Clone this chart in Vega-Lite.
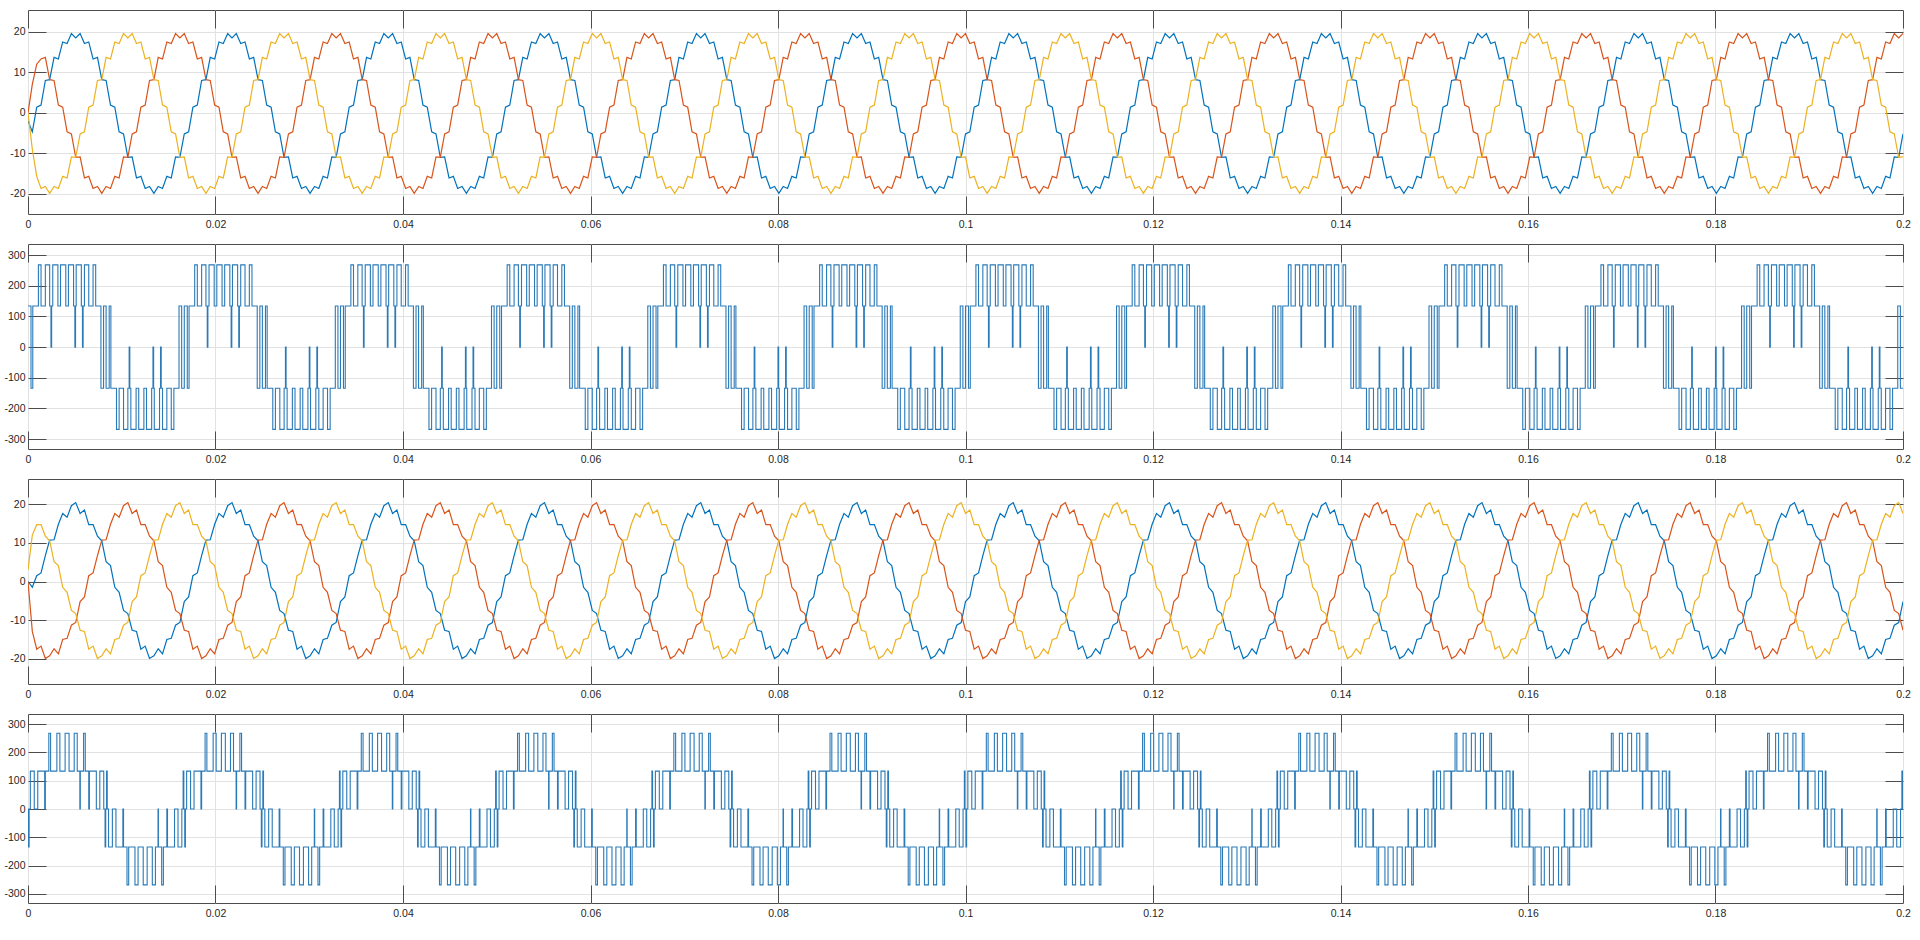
{
"$schema":"https://vega.github.io/schema/vega-lite/v6.json",
"background":"white",
"padding":{"left":3,"top":9,"right":10,"bottom":5},
"spacing":30,
"bounds":"flush",
"config":{
"view":{"stroke":"#4d4d4d","strokeWidth":1},
"axis":{"domain":false,"title":null,"labelFont":"Liberation Sans","labelFontSize":10.5,"labelColor":"#262626","gridColor":"#e2e2e2","gridWidth":1,"tickColor":"#4d4d4d","tickWidth":1,"tickSize":-18,"labelFlush":false}
},
"datasets":{
"cur":[
{"t":0,"a":-2,"b":0,"c":0,"d":0,"e":0,"f":3},
{"t":0.00046,"a":-4.7,"b":7,"c":-9,"d":-1.5,"e":-12.9,"f":12},
{"t":0.00093,"a":1.4,"b":12,"c":-15.7,"d":1.5,"e":-17.5,"f":14.7},
{"t":0.00139,"a":1.9,"b":13.3,"c":-18.7,"d":2.2,"e":-16.7,"f":14.7},
{"t":0.00185,"a":8,"b":13.7,"c":-18.2,"d":6.7,"e":-19.9,"f":11.7},
{"t":0.00231,"a":8.2,"b":8.2,"c":-19.9,"d":10.7,"e":-19.2,"f":10.5},
{"t":0.00278,"a":13.7,"b":8,"c":-18.2,"d":10.8,"e":-17.4,"f":5.1},
{"t":0.00324,"a":13.3,"b":1.9,"c":-18.7,"d":14.8,"e":-18.7,"f":4.1},
{"t":0.0037,"a":17.5,"b":1.4,"c":-15.7,"d":17.6,"e":-15,"f":-1.5},
{"t":0.00417,"a":17.1,"b":-4.7,"c":-16.1,"d":16.6,"e":-14.7,"f":-2.8},
{"t":0.00463,"a":19.6,"b":-5.2,"c":-10.9,"d":19.6,"e":-11.3,"f":-7.5},
{"t":0.00509,"a":18.5,"b":-11,"c":-11,"d":20.4,"e":-10.6,"f":-8.3},
{"t":0.00556,"a":19.6,"b":-10.9,"c":-5.2,"d":17.6,"e":-5.2,"f":-12.6},
{"t":0.00602,"a":17.1,"b":-16.1,"c":-4.7,"d":18.5,"e":-4,"f":-12.9},
{"t":0.00648,"a":17.5,"b":-15.7,"c":1.4,"d":14.7,"e":1.5,"f":-17.5},
{"t":0.00694,"a":13.3,"b":-18.7,"c":1.9,"d":14.7,"e":2.2,"f":-16.7},
{"t":0.00741,"a":13.7,"b":-18.2,"c":8,"d":11.7,"e":6.7,"f":-19.9},
{"t":0.00787,"a":8.2,"b":-19.9,"c":8.2,"d":10.5,"e":10.7,"f":-19.2},
{"t":0.00833,"a":8,"b":-18.2,"c":13.7,"d":5.1,"e":10.8,"f":-17.4},
{"t":0.0088,"a":1.9,"b":-18.7,"c":13.3,"d":4.1,"e":14.8,"f":-18.7},
{"t":0.00926,"a":1.4,"b":-15.7,"c":17.5,"d":-1.5,"e":17.6,"f":-15},
{"t":0.00972,"a":-4.7,"b":-16.1,"c":17.1,"d":-2.8,"e":16.6,"f":-14.7},
{"t":0.01019,"a":-5.2,"b":-10.9,"c":19.6,"d":-7.5,"e":19.6,"f":-11.3},
{"t":0.01065,"a":-11,"b":-11,"c":18.5,"d":-8.3,"e":20.4,"f":-10.6},
{"t":0.01111,"a":-10.9,"b":-5.2,"c":19.6,"d":-12.6,"e":17.6,"f":-5.2},
{"t":0.01157,"a":-16.1,"b":-4.7,"c":17.1,"d":-12.9,"e":18.5,"f":-4},
{"t":0.01204,"a":-15.7,"b":1.4,"c":17.5,"d":-17.5,"e":14.7,"f":1.5},
{"t":0.0125,"a":-18.7,"b":1.9,"c":13.3,"d":-16.7,"e":14.7,"f":2.2},
{"t":0.01296,"a":-18.2,"b":8,"c":13.7,"d":-19.9,"e":11.7,"f":6.7},
{"t":0.01343,"a":-19.9,"b":8.2,"c":8.2,"d":-19.2,"e":10.5,"f":10.7},
{"t":0.01389,"a":-18.2,"b":13.7,"c":8,"d":-17.4,"e":5.1,"f":10.8},
{"t":0.01435,"a":-18.7,"b":13.3,"c":1.9,"d":-18.7,"e":4.1,"f":14.8},
{"t":0.01481,"a":-15.7,"b":17.5,"c":1.4,"d":-15,"e":-1.5,"f":17.6},
{"t":0.01528,"a":-16.1,"b":17.1,"c":-4.7,"d":-14.7,"e":-2.8,"f":16.6},
{"t":0.01574,"a":-10.9,"b":19.6,"c":-5.2,"d":-11.3,"e":-7.5,"f":19.6},
{"t":0.0162,"a":-11,"b":18.5,"c":-11,"d":-10.6,"e":-8.3,"f":20.4},
{"t":0.01667,"a":-5.2,"b":19.6,"c":-10.9,"d":-5.2,"e":-12.6,"f":17.6},
{"t":0.01713,"a":-4.7,"b":17.1,"c":-16.1,"d":-4,"e":-12.9,"f":18.5},
{"t":0.01759,"a":1.4,"b":17.5,"c":-15.7,"d":1.5,"e":-17.5,"f":14.7},
{"t":0.01806,"a":1.9,"b":13.3,"c":-18.7,"d":2.2,"e":-16.7,"f":14.7},
{"t":0.01852,"a":8,"b":13.7,"c":-18.2,"d":6.7,"e":-19.9,"f":11.7},
{"t":0.01898,"a":8.2,"b":8.2,"c":-19.9,"d":10.7,"e":-19.2,"f":10.5},
{"t":0.01944,"a":13.7,"b":8,"c":-18.2,"d":10.8,"e":-17.4,"f":5.1},
{"t":0.01991,"a":13.3,"b":1.9,"c":-18.7,"d":14.8,"e":-18.7,"f":4.1},
{"t":0.02037,"a":17.5,"b":1.4,"c":-15.7,"d":17.6,"e":-15,"f":-1.5},
{"t":0.02083,"a":17.1,"b":-4.7,"c":-16.1,"d":16.6,"e":-14.7,"f":-2.8},
{"t":0.0213,"a":19.6,"b":-5.2,"c":-10.9,"d":19.6,"e":-11.3,"f":-7.5},
{"t":0.02176,"a":18.5,"b":-11,"c":-11,"d":20.4,"e":-10.6,"f":-8.3},
{"t":0.02222,"a":19.6,"b":-10.9,"c":-5.2,"d":17.6,"e":-5.2,"f":-12.6},
{"t":0.02269,"a":17.1,"b":-16.1,"c":-4.7,"d":18.5,"e":-4,"f":-12.9},
{"t":0.02315,"a":17.5,"b":-15.7,"c":1.4,"d":14.7,"e":1.5,"f":-17.5},
{"t":0.02361,"a":13.3,"b":-18.7,"c":1.9,"d":14.7,"e":2.2,"f":-16.7},
{"t":0.02407,"a":13.7,"b":-18.2,"c":8,"d":11.7,"e":6.7,"f":-19.9},
{"t":0.02454,"a":8.2,"b":-19.9,"c":8.2,"d":10.5,"e":10.7,"f":-19.2},
{"t":0.025,"a":8,"b":-18.2,"c":13.7,"d":5.1,"e":10.8,"f":-17.4},
{"t":0.02546,"a":1.9,"b":-18.7,"c":13.3,"d":4.1,"e":14.8,"f":-18.7},
{"t":0.02593,"a":1.4,"b":-15.7,"c":17.5,"d":-1.5,"e":17.6,"f":-15},
{"t":0.02639,"a":-4.7,"b":-16.1,"c":17.1,"d":-2.8,"e":16.6,"f":-14.7},
{"t":0.02685,"a":-5.2,"b":-10.9,"c":19.6,"d":-7.5,"e":19.6,"f":-11.3},
{"t":0.02731,"a":-11,"b":-11,"c":18.5,"d":-8.3,"e":20.4,"f":-10.6},
{"t":0.02778,"a":-10.9,"b":-5.2,"c":19.6,"d":-12.6,"e":17.6,"f":-5.2},
{"t":0.02824,"a":-16.1,"b":-4.7,"c":17.1,"d":-12.9,"e":18.5,"f":-4},
{"t":0.0287,"a":-15.7,"b":1.4,"c":17.5,"d":-17.5,"e":14.7,"f":1.5},
{"t":0.02917,"a":-18.7,"b":1.9,"c":13.3,"d":-16.7,"e":14.7,"f":2.2},
{"t":0.02963,"a":-18.2,"b":8,"c":13.7,"d":-19.9,"e":11.7,"f":6.7},
{"t":0.03009,"a":-19.9,"b":8.2,"c":8.2,"d":-19.2,"e":10.5,"f":10.7},
{"t":0.03056,"a":-18.2,"b":13.7,"c":8,"d":-17.4,"e":5.1,"f":10.8},
{"t":0.03102,"a":-18.7,"b":13.3,"c":1.9,"d":-18.7,"e":4.1,"f":14.8},
{"t":0.03148,"a":-15.7,"b":17.5,"c":1.4,"d":-15,"e":-1.5,"f":17.6},
{"t":0.03194,"a":-16.1,"b":17.1,"c":-4.7,"d":-14.7,"e":-2.8,"f":16.6},
{"t":0.03241,"a":-10.9,"b":19.6,"c":-5.2,"d":-11.3,"e":-7.5,"f":19.6},
{"t":0.03287,"a":-11,"b":18.5,"c":-11,"d":-10.6,"e":-8.3,"f":20.4},
{"t":0.03333,"a":-5.2,"b":19.6,"c":-10.9,"d":-5.2,"e":-12.6,"f":17.6},
{"t":0.0338,"a":-4.7,"b":17.1,"c":-16.1,"d":-4,"e":-12.9,"f":18.5},
{"t":0.03426,"a":1.4,"b":17.5,"c":-15.7,"d":1.5,"e":-17.5,"f":14.7},
{"t":0.03472,"a":1.9,"b":13.3,"c":-18.7,"d":2.2,"e":-16.7,"f":14.7},
{"t":0.03519,"a":8,"b":13.7,"c":-18.2,"d":6.7,"e":-19.9,"f":11.7},
{"t":0.03565,"a":8.2,"b":8.2,"c":-19.9,"d":10.7,"e":-19.2,"f":10.5},
{"t":0.03611,"a":13.7,"b":8,"c":-18.2,"d":10.8,"e":-17.4,"f":5.1},
{"t":0.03657,"a":13.3,"b":1.9,"c":-18.7,"d":14.8,"e":-18.7,"f":4.1},
{"t":0.03704,"a":17.5,"b":1.4,"c":-15.7,"d":17.6,"e":-15,"f":-1.5},
{"t":0.0375,"a":17.1,"b":-4.7,"c":-16.1,"d":16.6,"e":-14.7,"f":-2.8},
{"t":0.03796,"a":19.6,"b":-5.2,"c":-10.9,"d":19.6,"e":-11.3,"f":-7.5},
{"t":0.03843,"a":18.5,"b":-11,"c":-11,"d":20.4,"e":-10.6,"f":-8.3},
{"t":0.03889,"a":19.6,"b":-10.9,"c":-5.2,"d":17.6,"e":-5.2,"f":-12.6},
{"t":0.03935,"a":17.1,"b":-16.1,"c":-4.7,"d":18.5,"e":-4,"f":-12.9},
{"t":0.03981,"a":17.5,"b":-15.7,"c":1.4,"d":14.7,"e":1.5,"f":-17.5},
{"t":0.04028,"a":13.3,"b":-18.7,"c":1.9,"d":14.7,"e":2.2,"f":-16.7},
{"t":0.04074,"a":13.7,"b":-18.2,"c":8,"d":11.7,"e":6.7,"f":-19.9},
{"t":0.0412,"a":8.2,"b":-19.9,"c":8.2,"d":10.5,"e":10.7,"f":-19.2},
{"t":0.04167,"a":8,"b":-18.2,"c":13.7,"d":5.1,"e":10.8,"f":-17.4},
{"t":0.04213,"a":1.9,"b":-18.7,"c":13.3,"d":4.1,"e":14.8,"f":-18.7},
{"t":0.04259,"a":1.4,"b":-15.7,"c":17.5,"d":-1.5,"e":17.6,"f":-15},
{"t":0.04306,"a":-4.7,"b":-16.1,"c":17.1,"d":-2.8,"e":16.6,"f":-14.7},
{"t":0.04352,"a":-5.2,"b":-10.9,"c":19.6,"d":-7.5,"e":19.6,"f":-11.3},
{"t":0.04398,"a":-11,"b":-11,"c":18.5,"d":-8.3,"e":20.4,"f":-10.6},
{"t":0.04444,"a":-10.9,"b":-5.2,"c":19.6,"d":-12.6,"e":17.6,"f":-5.2},
{"t":0.04491,"a":-16.1,"b":-4.7,"c":17.1,"d":-12.9,"e":18.5,"f":-4},
{"t":0.04537,"a":-15.7,"b":1.4,"c":17.5,"d":-17.5,"e":14.7,"f":1.5},
{"t":0.04583,"a":-18.7,"b":1.9,"c":13.3,"d":-16.7,"e":14.7,"f":2.2},
{"t":0.0463,"a":-18.2,"b":8,"c":13.7,"d":-19.9,"e":11.7,"f":6.7},
{"t":0.04676,"a":-19.9,"b":8.2,"c":8.2,"d":-19.2,"e":10.5,"f":10.7},
{"t":0.04722,"a":-18.2,"b":13.7,"c":8,"d":-17.4,"e":5.1,"f":10.8},
{"t":0.04769,"a":-18.7,"b":13.3,"c":1.9,"d":-18.7,"e":4.1,"f":14.8},
{"t":0.04815,"a":-15.7,"b":17.5,"c":1.4,"d":-15,"e":-1.5,"f":17.6},
{"t":0.04861,"a":-16.1,"b":17.1,"c":-4.7,"d":-14.7,"e":-2.8,"f":16.6},
{"t":0.04907,"a":-10.9,"b":19.6,"c":-5.2,"d":-11.3,"e":-7.5,"f":19.6},
{"t":0.04954,"a":-11,"b":18.5,"c":-11,"d":-10.6,"e":-8.3,"f":20.4},
{"t":0.05,"a":-5.2,"b":19.6,"c":-10.9,"d":-5.2,"e":-12.6,"f":17.6},
{"t":0.05046,"a":-4.7,"b":17.1,"c":-16.1,"d":-4,"e":-12.9,"f":18.5},
{"t":0.05093,"a":1.4,"b":17.5,"c":-15.7,"d":1.5,"e":-17.5,"f":14.7},
{"t":0.05139,"a":1.9,"b":13.3,"c":-18.7,"d":2.2,"e":-16.7,"f":14.7},
{"t":0.05185,"a":8,"b":13.7,"c":-18.2,"d":6.7,"e":-19.9,"f":11.7},
{"t":0.05231,"a":8.2,"b":8.2,"c":-19.9,"d":10.7,"e":-19.2,"f":10.5},
{"t":0.05278,"a":13.7,"b":8,"c":-18.2,"d":10.8,"e":-17.4,"f":5.1},
{"t":0.05324,"a":13.3,"b":1.9,"c":-18.7,"d":14.8,"e":-18.7,"f":4.1},
{"t":0.0537,"a":17.5,"b":1.4,"c":-15.7,"d":17.6,"e":-15,"f":-1.5},
{"t":0.05417,"a":17.1,"b":-4.7,"c":-16.1,"d":16.6,"e":-14.7,"f":-2.8},
{"t":0.05463,"a":19.6,"b":-5.2,"c":-10.9,"d":19.6,"e":-11.3,"f":-7.5},
{"t":0.05509,"a":18.5,"b":-11,"c":-11,"d":20.4,"e":-10.6,"f":-8.3},
{"t":0.05556,"a":19.6,"b":-10.9,"c":-5.2,"d":17.6,"e":-5.2,"f":-12.6},
{"t":0.05602,"a":17.1,"b":-16.1,"c":-4.7,"d":18.5,"e":-4,"f":-12.9},
{"t":0.05648,"a":17.5,"b":-15.7,"c":1.4,"d":14.7,"e":1.5,"f":-17.5},
{"t":0.05694,"a":13.3,"b":-18.7,"c":1.9,"d":14.7,"e":2.2,"f":-16.7},
{"t":0.05741,"a":13.7,"b":-18.2,"c":8,"d":11.7,"e":6.7,"f":-19.9},
{"t":0.05787,"a":8.2,"b":-19.9,"c":8.2,"d":10.5,"e":10.7,"f":-19.2},
{"t":0.05833,"a":8,"b":-18.2,"c":13.7,"d":5.1,"e":10.8,"f":-17.4},
{"t":0.0588,"a":1.9,"b":-18.7,"c":13.3,"d":4.1,"e":14.8,"f":-18.7},
{"t":0.05926,"a":1.4,"b":-15.7,"c":17.5,"d":-1.5,"e":17.6,"f":-15},
{"t":0.05972,"a":-4.7,"b":-16.1,"c":17.1,"d":-2.8,"e":16.6,"f":-14.7},
{"t":0.06019,"a":-5.2,"b":-10.9,"c":19.6,"d":-7.5,"e":19.6,"f":-11.3},
{"t":0.06065,"a":-11,"b":-11,"c":18.5,"d":-8.3,"e":20.4,"f":-10.6},
{"t":0.06111,"a":-10.9,"b":-5.2,"c":19.6,"d":-12.6,"e":17.6,"f":-5.2},
{"t":0.06157,"a":-16.1,"b":-4.7,"c":17.1,"d":-12.9,"e":18.5,"f":-4},
{"t":0.06204,"a":-15.7,"b":1.4,"c":17.5,"d":-17.5,"e":14.7,"f":1.5},
{"t":0.0625,"a":-18.7,"b":1.9,"c":13.3,"d":-16.7,"e":14.7,"f":2.2},
{"t":0.06296,"a":-18.2,"b":8,"c":13.7,"d":-19.9,"e":11.7,"f":6.7},
{"t":0.06343,"a":-19.9,"b":8.2,"c":8.2,"d":-19.2,"e":10.5,"f":10.7},
{"t":0.06389,"a":-18.2,"b":13.7,"c":8,"d":-17.4,"e":5.1,"f":10.8},
{"t":0.06435,"a":-18.7,"b":13.3,"c":1.9,"d":-18.7,"e":4.1,"f":14.8},
{"t":0.06481,"a":-15.7,"b":17.5,"c":1.4,"d":-15,"e":-1.5,"f":17.6},
{"t":0.06528,"a":-16.1,"b":17.1,"c":-4.7,"d":-14.7,"e":-2.8,"f":16.6},
{"t":0.06574,"a":-10.9,"b":19.6,"c":-5.2,"d":-11.3,"e":-7.5,"f":19.6},
{"t":0.0662,"a":-11,"b":18.5,"c":-11,"d":-10.6,"e":-8.3,"f":20.4},
{"t":0.06667,"a":-5.2,"b":19.6,"c":-10.9,"d":-5.2,"e":-12.6,"f":17.6},
{"t":0.06713,"a":-4.7,"b":17.1,"c":-16.1,"d":-4,"e":-12.9,"f":18.5},
{"t":0.06759,"a":1.4,"b":17.5,"c":-15.7,"d":1.5,"e":-17.5,"f":14.7},
{"t":0.06806,"a":1.9,"b":13.3,"c":-18.7,"d":2.2,"e":-16.7,"f":14.7},
{"t":0.06852,"a":8,"b":13.7,"c":-18.2,"d":6.7,"e":-19.9,"f":11.7},
{"t":0.06898,"a":8.2,"b":8.2,"c":-19.9,"d":10.7,"e":-19.2,"f":10.5},
{"t":0.06944,"a":13.7,"b":8,"c":-18.2,"d":10.8,"e":-17.4,"f":5.1},
{"t":0.06991,"a":13.3,"b":1.9,"c":-18.7,"d":14.8,"e":-18.7,"f":4.1},
{"t":0.07037,"a":17.5,"b":1.4,"c":-15.7,"d":17.6,"e":-15,"f":-1.5},
{"t":0.07083,"a":17.1,"b":-4.7,"c":-16.1,"d":16.6,"e":-14.7,"f":-2.8},
{"t":0.0713,"a":19.6,"b":-5.2,"c":-10.9,"d":19.6,"e":-11.3,"f":-7.5},
{"t":0.07176,"a":18.5,"b":-11,"c":-11,"d":20.4,"e":-10.6,"f":-8.3},
{"t":0.07222,"a":19.6,"b":-10.9,"c":-5.2,"d":17.6,"e":-5.2,"f":-12.6},
{"t":0.07269,"a":17.1,"b":-16.1,"c":-4.7,"d":18.5,"e":-4,"f":-12.9},
{"t":0.07315,"a":17.5,"b":-15.7,"c":1.4,"d":14.7,"e":1.5,"f":-17.5},
{"t":0.07361,"a":13.3,"b":-18.7,"c":1.9,"d":14.7,"e":2.2,"f":-16.7},
{"t":0.07407,"a":13.7,"b":-18.2,"c":8,"d":11.7,"e":6.7,"f":-19.9},
{"t":0.07454,"a":8.2,"b":-19.9,"c":8.2,"d":10.5,"e":10.7,"f":-19.2},
{"t":0.075,"a":8,"b":-18.2,"c":13.7,"d":5.1,"e":10.8,"f":-17.4},
{"t":0.07546,"a":1.9,"b":-18.7,"c":13.3,"d":4.1,"e":14.8,"f":-18.7},
{"t":0.07593,"a":1.4,"b":-15.7,"c":17.5,"d":-1.5,"e":17.6,"f":-15},
{"t":0.07639,"a":-4.7,"b":-16.1,"c":17.1,"d":-2.8,"e":16.6,"f":-14.7},
{"t":0.07685,"a":-5.2,"b":-10.9,"c":19.6,"d":-7.5,"e":19.6,"f":-11.3},
{"t":0.07731,"a":-11,"b":-11,"c":18.5,"d":-8.3,"e":20.4,"f":-10.6},
{"t":0.07778,"a":-10.9,"b":-5.2,"c":19.6,"d":-12.6,"e":17.6,"f":-5.2},
{"t":0.07824,"a":-16.1,"b":-4.7,"c":17.1,"d":-12.9,"e":18.5,"f":-4},
{"t":0.0787,"a":-15.7,"b":1.4,"c":17.5,"d":-17.5,"e":14.7,"f":1.5},
{"t":0.07917,"a":-18.7,"b":1.9,"c":13.3,"d":-16.7,"e":14.7,"f":2.2},
{"t":0.07963,"a":-18.2,"b":8,"c":13.7,"d":-19.9,"e":11.7,"f":6.7},
{"t":0.08009,"a":-19.9,"b":8.2,"c":8.2,"d":-19.2,"e":10.5,"f":10.7},
{"t":0.08056,"a":-18.2,"b":13.7,"c":8,"d":-17.4,"e":5.1,"f":10.8},
{"t":0.08102,"a":-18.7,"b":13.3,"c":1.9,"d":-18.7,"e":4.1,"f":14.8},
{"t":0.08148,"a":-15.7,"b":17.5,"c":1.4,"d":-15,"e":-1.5,"f":17.6},
{"t":0.08194,"a":-16.1,"b":17.1,"c":-4.7,"d":-14.7,"e":-2.8,"f":16.6},
{"t":0.08241,"a":-10.9,"b":19.6,"c":-5.2,"d":-11.3,"e":-7.5,"f":19.6},
{"t":0.08287,"a":-11,"b":18.5,"c":-11,"d":-10.6,"e":-8.3,"f":20.4},
{"t":0.08333,"a":-5.2,"b":19.6,"c":-10.9,"d":-5.2,"e":-12.6,"f":17.6},
{"t":0.0838,"a":-4.7,"b":17.1,"c":-16.1,"d":-4,"e":-12.9,"f":18.5},
{"t":0.08426,"a":1.4,"b":17.5,"c":-15.7,"d":1.5,"e":-17.5,"f":14.7},
{"t":0.08472,"a":1.9,"b":13.3,"c":-18.7,"d":2.2,"e":-16.7,"f":14.7},
{"t":0.08519,"a":8,"b":13.7,"c":-18.2,"d":6.7,"e":-19.9,"f":11.7},
{"t":0.08565,"a":8.2,"b":8.2,"c":-19.9,"d":10.7,"e":-19.2,"f":10.5},
{"t":0.08611,"a":13.7,"b":8,"c":-18.2,"d":10.8,"e":-17.4,"f":5.1},
{"t":0.08657,"a":13.3,"b":1.9,"c":-18.7,"d":14.8,"e":-18.7,"f":4.1},
{"t":0.08704,"a":17.5,"b":1.4,"c":-15.7,"d":17.6,"e":-15,"f":-1.5},
{"t":0.0875,"a":17.1,"b":-4.7,"c":-16.1,"d":16.6,"e":-14.7,"f":-2.8},
{"t":0.08796,"a":19.6,"b":-5.2,"c":-10.9,"d":19.6,"e":-11.3,"f":-7.5},
{"t":0.08843,"a":18.5,"b":-11,"c":-11,"d":20.4,"e":-10.6,"f":-8.3},
{"t":0.08889,"a":19.6,"b":-10.9,"c":-5.2,"d":17.6,"e":-5.2,"f":-12.6},
{"t":0.08935,"a":17.1,"b":-16.1,"c":-4.7,"d":18.5,"e":-4,"f":-12.9},
{"t":0.08981,"a":17.5,"b":-15.7,"c":1.4,"d":14.7,"e":1.5,"f":-17.5},
{"t":0.09028,"a":13.3,"b":-18.7,"c":1.9,"d":14.7,"e":2.2,"f":-16.7},
{"t":0.09074,"a":13.7,"b":-18.2,"c":8,"d":11.7,"e":6.7,"f":-19.9},
{"t":0.0912,"a":8.2,"b":-19.9,"c":8.2,"d":10.5,"e":10.7,"f":-19.2},
{"t":0.09167,"a":8,"b":-18.2,"c":13.7,"d":5.1,"e":10.8,"f":-17.4},
{"t":0.09213,"a":1.9,"b":-18.7,"c":13.3,"d":4.1,"e":14.8,"f":-18.7},
{"t":0.09259,"a":1.4,"b":-15.7,"c":17.5,"d":-1.5,"e":17.6,"f":-15},
{"t":0.09306,"a":-4.7,"b":-16.1,"c":17.1,"d":-2.8,"e":16.6,"f":-14.7},
{"t":0.09352,"a":-5.2,"b":-10.9,"c":19.6,"d":-7.5,"e":19.6,"f":-11.3},
{"t":0.09398,"a":-11,"b":-11,"c":18.5,"d":-8.3,"e":20.4,"f":-10.6},
{"t":0.09444,"a":-10.9,"b":-5.2,"c":19.6,"d":-12.6,"e":17.6,"f":-5.2},
{"t":0.09491,"a":-16.1,"b":-4.7,"c":17.1,"d":-12.9,"e":18.5,"f":-4},
{"t":0.09537,"a":-15.7,"b":1.4,"c":17.5,"d":-17.5,"e":14.7,"f":1.5},
{"t":0.09583,"a":-18.7,"b":1.9,"c":13.3,"d":-16.7,"e":14.7,"f":2.2},
{"t":0.0963,"a":-18.2,"b":8,"c":13.7,"d":-19.9,"e":11.7,"f":6.7},
{"t":0.09676,"a":-19.9,"b":8.2,"c":8.2,"d":-19.2,"e":10.5,"f":10.7},
{"t":0.09722,"a":-18.2,"b":13.7,"c":8,"d":-17.4,"e":5.1,"f":10.8},
{"t":0.09769,"a":-18.7,"b":13.3,"c":1.9,"d":-18.7,"e":4.1,"f":14.8},
{"t":0.09815,"a":-15.7,"b":17.5,"c":1.4,"d":-15,"e":-1.5,"f":17.6},
{"t":0.09861,"a":-16.1,"b":17.1,"c":-4.7,"d":-14.7,"e":-2.8,"f":16.6},
{"t":0.09907,"a":-10.9,"b":19.6,"c":-5.2,"d":-11.3,"e":-7.5,"f":19.6},
{"t":0.09954,"a":-11,"b":18.5,"c":-11,"d":-10.6,"e":-8.3,"f":20.4},
{"t":0.1,"a":-5.2,"b":19.6,"c":-10.9,"d":-5.2,"e":-12.6,"f":17.6},
{"t":0.10046,"a":-4.7,"b":17.1,"c":-16.1,"d":-4,"e":-12.9,"f":18.5},
{"t":0.10093,"a":1.4,"b":17.5,"c":-15.7,"d":1.5,"e":-17.5,"f":14.7},
{"t":0.10139,"a":1.9,"b":13.3,"c":-18.7,"d":2.2,"e":-16.7,"f":14.7},
{"t":0.10185,"a":8,"b":13.7,"c":-18.2,"d":6.7,"e":-19.9,"f":11.7},
{"t":0.10231,"a":8.2,"b":8.2,"c":-19.9,"d":10.7,"e":-19.2,"f":10.5},
{"t":0.10278,"a":13.7,"b":8,"c":-18.2,"d":10.8,"e":-17.4,"f":5.1},
{"t":0.10324,"a":13.3,"b":1.9,"c":-18.7,"d":14.8,"e":-18.7,"f":4.1},
{"t":0.1037,"a":17.5,"b":1.4,"c":-15.7,"d":17.6,"e":-15,"f":-1.5},
{"t":0.10417,"a":17.1,"b":-4.7,"c":-16.1,"d":16.6,"e":-14.7,"f":-2.8},
{"t":0.10463,"a":19.6,"b":-5.2,"c":-10.9,"d":19.6,"e":-11.3,"f":-7.5},
{"t":0.10509,"a":18.5,"b":-11,"c":-11,"d":20.4,"e":-10.6,"f":-8.3},
{"t":0.10556,"a":19.6,"b":-10.9,"c":-5.2,"d":17.6,"e":-5.2,"f":-12.6},
{"t":0.10602,"a":17.1,"b":-16.1,"c":-4.7,"d":18.5,"e":-4,"f":-12.9},
{"t":0.10648,"a":17.5,"b":-15.7,"c":1.4,"d":14.7,"e":1.5,"f":-17.5},
{"t":0.10694,"a":13.3,"b":-18.7,"c":1.9,"d":14.7,"e":2.2,"f":-16.7},
{"t":0.10741,"a":13.7,"b":-18.2,"c":8,"d":11.7,"e":6.7,"f":-19.9},
{"t":0.10787,"a":8.2,"b":-19.9,"c":8.2,"d":10.5,"e":10.7,"f":-19.2},
{"t":0.10833,"a":8,"b":-18.2,"c":13.7,"d":5.1,"e":10.8,"f":-17.4},
{"t":0.1088,"a":1.9,"b":-18.7,"c":13.3,"d":4.1,"e":14.8,"f":-18.7},
{"t":0.10926,"a":1.4,"b":-15.7,"c":17.5,"d":-1.5,"e":17.6,"f":-15},
{"t":0.10972,"a":-4.7,"b":-16.1,"c":17.1,"d":-2.8,"e":16.6,"f":-14.7},
{"t":0.11019,"a":-5.2,"b":-10.9,"c":19.6,"d":-7.5,"e":19.6,"f":-11.3},
{"t":0.11065,"a":-11,"b":-11,"c":18.5,"d":-8.3,"e":20.4,"f":-10.6},
{"t":0.11111,"a":-10.9,"b":-5.2,"c":19.6,"d":-12.6,"e":17.6,"f":-5.2},
{"t":0.11157,"a":-16.1,"b":-4.7,"c":17.1,"d":-12.9,"e":18.5,"f":-4},
{"t":0.11204,"a":-15.7,"b":1.4,"c":17.5,"d":-17.5,"e":14.7,"f":1.5},
{"t":0.1125,"a":-18.7,"b":1.9,"c":13.3,"d":-16.7,"e":14.7,"f":2.2},
{"t":0.11296,"a":-18.2,"b":8,"c":13.7,"d":-19.9,"e":11.7,"f":6.7},
{"t":0.11343,"a":-19.9,"b":8.2,"c":8.2,"d":-19.2,"e":10.5,"f":10.7},
{"t":0.11389,"a":-18.2,"b":13.7,"c":8,"d":-17.4,"e":5.1,"f":10.8},
{"t":0.11435,"a":-18.7,"b":13.3,"c":1.9,"d":-18.7,"e":4.1,"f":14.8},
{"t":0.11481,"a":-15.7,"b":17.5,"c":1.4,"d":-15,"e":-1.5,"f":17.6},
{"t":0.11528,"a":-16.1,"b":17.1,"c":-4.7,"d":-14.7,"e":-2.8,"f":16.6},
{"t":0.11574,"a":-10.9,"b":19.6,"c":-5.2,"d":-11.3,"e":-7.5,"f":19.6},
{"t":0.1162,"a":-11,"b":18.5,"c":-11,"d":-10.6,"e":-8.3,"f":20.4},
{"t":0.11667,"a":-5.2,"b":19.6,"c":-10.9,"d":-5.2,"e":-12.6,"f":17.6},
{"t":0.11713,"a":-4.7,"b":17.1,"c":-16.1,"d":-4,"e":-12.9,"f":18.5},
{"t":0.11759,"a":1.4,"b":17.5,"c":-15.7,"d":1.5,"e":-17.5,"f":14.7},
{"t":0.11806,"a":1.9,"b":13.3,"c":-18.7,"d":2.2,"e":-16.7,"f":14.7},
{"t":0.11852,"a":8,"b":13.7,"c":-18.2,"d":6.7,"e":-19.9,"f":11.7},
{"t":0.11898,"a":8.2,"b":8.2,"c":-19.9,"d":10.7,"e":-19.2,"f":10.5},
{"t":0.11944,"a":13.7,"b":8,"c":-18.2,"d":10.8,"e":-17.4,"f":5.1},
{"t":0.11991,"a":13.3,"b":1.9,"c":-18.7,"d":14.8,"e":-18.7,"f":4.1},
{"t":0.12037,"a":17.5,"b":1.4,"c":-15.7,"d":17.6,"e":-15,"f":-1.5},
{"t":0.12083,"a":17.1,"b":-4.7,"c":-16.1,"d":16.6,"e":-14.7,"f":-2.8},
{"t":0.1213,"a":19.6,"b":-5.2,"c":-10.9,"d":19.6,"e":-11.3,"f":-7.5},
{"t":0.12176,"a":18.5,"b":-11,"c":-11,"d":20.4,"e":-10.6,"f":-8.3},
{"t":0.12222,"a":19.6,"b":-10.9,"c":-5.2,"d":17.6,"e":-5.2,"f":-12.6},
{"t":0.12269,"a":17.1,"b":-16.1,"c":-4.7,"d":18.5,"e":-4,"f":-12.9},
{"t":0.12315,"a":17.5,"b":-15.7,"c":1.4,"d":14.7,"e":1.5,"f":-17.5},
{"t":0.12361,"a":13.3,"b":-18.7,"c":1.9,"d":14.7,"e":2.2,"f":-16.7},
{"t":0.12407,"a":13.7,"b":-18.2,"c":8,"d":11.7,"e":6.7,"f":-19.9},
{"t":0.12454,"a":8.2,"b":-19.9,"c":8.2,"d":10.5,"e":10.7,"f":-19.2},
{"t":0.125,"a":8,"b":-18.2,"c":13.7,"d":5.1,"e":10.8,"f":-17.4},
{"t":0.12546,"a":1.9,"b":-18.7,"c":13.3,"d":4.1,"e":14.8,"f":-18.7},
{"t":0.12593,"a":1.4,"b":-15.7,"c":17.5,"d":-1.5,"e":17.6,"f":-15},
{"t":0.12639,"a":-4.7,"b":-16.1,"c":17.1,"d":-2.8,"e":16.6,"f":-14.7},
{"t":0.12685,"a":-5.2,"b":-10.9,"c":19.6,"d":-7.5,"e":19.6,"f":-11.3},
{"t":0.12731,"a":-11,"b":-11,"c":18.5,"d":-8.3,"e":20.4,"f":-10.6},
{"t":0.12778,"a":-10.9,"b":-5.2,"c":19.6,"d":-12.6,"e":17.6,"f":-5.2},
{"t":0.12824,"a":-16.1,"b":-4.7,"c":17.1,"d":-12.9,"e":18.5,"f":-4},
{"t":0.1287,"a":-15.7,"b":1.4,"c":17.5,"d":-17.5,"e":14.7,"f":1.5},
{"t":0.12917,"a":-18.7,"b":1.9,"c":13.3,"d":-16.7,"e":14.7,"f":2.2},
{"t":0.12963,"a":-18.2,"b":8,"c":13.7,"d":-19.9,"e":11.7,"f":6.7},
{"t":0.13009,"a":-19.9,"b":8.2,"c":8.2,"d":-19.2,"e":10.5,"f":10.7},
{"t":0.13056,"a":-18.2,"b":13.7,"c":8,"d":-17.4,"e":5.1,"f":10.8},
{"t":0.13102,"a":-18.7,"b":13.3,"c":1.9,"d":-18.7,"e":4.1,"f":14.8},
{"t":0.13148,"a":-15.7,"b":17.5,"c":1.4,"d":-15,"e":-1.5,"f":17.6},
{"t":0.13194,"a":-16.1,"b":17.1,"c":-4.7,"d":-14.7,"e":-2.8,"f":16.6},
{"t":0.13241,"a":-10.9,"b":19.6,"c":-5.2,"d":-11.3,"e":-7.5,"f":19.6},
{"t":0.13287,"a":-11,"b":18.5,"c":-11,"d":-10.6,"e":-8.3,"f":20.4},
{"t":0.13333,"a":-5.2,"b":19.6,"c":-10.9,"d":-5.2,"e":-12.6,"f":17.6},
{"t":0.1338,"a":-4.7,"b":17.1,"c":-16.1,"d":-4,"e":-12.9,"f":18.5},
{"t":0.13426,"a":1.4,"b":17.5,"c":-15.7,"d":1.5,"e":-17.5,"f":14.7},
{"t":0.13472,"a":1.9,"b":13.3,"c":-18.7,"d":2.2,"e":-16.7,"f":14.7},
{"t":0.13519,"a":8,"b":13.7,"c":-18.2,"d":6.7,"e":-19.9,"f":11.7},
{"t":0.13565,"a":8.2,"b":8.2,"c":-19.9,"d":10.7,"e":-19.2,"f":10.5},
{"t":0.13611,"a":13.7,"b":8,"c":-18.2,"d":10.8,"e":-17.4,"f":5.1},
{"t":0.13657,"a":13.3,"b":1.9,"c":-18.7,"d":14.8,"e":-18.7,"f":4.1},
{"t":0.13704,"a":17.5,"b":1.4,"c":-15.7,"d":17.6,"e":-15,"f":-1.5},
{"t":0.1375,"a":17.1,"b":-4.7,"c":-16.1,"d":16.6,"e":-14.7,"f":-2.8},
{"t":0.13796,"a":19.6,"b":-5.2,"c":-10.9,"d":19.6,"e":-11.3,"f":-7.5},
{"t":0.13843,"a":18.5,"b":-11,"c":-11,"d":20.4,"e":-10.6,"f":-8.3},
{"t":0.13889,"a":19.6,"b":-10.9,"c":-5.2,"d":17.6,"e":-5.2,"f":-12.6},
{"t":0.13935,"a":17.1,"b":-16.1,"c":-4.7,"d":18.5,"e":-4,"f":-12.9},
{"t":0.13981,"a":17.5,"b":-15.7,"c":1.4,"d":14.7,"e":1.5,"f":-17.5},
{"t":0.14028,"a":13.3,"b":-18.7,"c":1.9,"d":14.7,"e":2.2,"f":-16.7},
{"t":0.14074,"a":13.7,"b":-18.2,"c":8,"d":11.7,"e":6.7,"f":-19.9},
{"t":0.1412,"a":8.2,"b":-19.9,"c":8.2,"d":10.5,"e":10.7,"f":-19.2},
{"t":0.14167,"a":8,"b":-18.2,"c":13.7,"d":5.1,"e":10.8,"f":-17.4},
{"t":0.14213,"a":1.9,"b":-18.7,"c":13.3,"d":4.1,"e":14.8,"f":-18.7},
{"t":0.14259,"a":1.4,"b":-15.7,"c":17.5,"d":-1.5,"e":17.6,"f":-15},
{"t":0.14306,"a":-4.7,"b":-16.1,"c":17.1,"d":-2.8,"e":16.6,"f":-14.7},
{"t":0.14352,"a":-5.2,"b":-10.9,"c":19.6,"d":-7.5,"e":19.6,"f":-11.3},
{"t":0.14398,"a":-11,"b":-11,"c":18.5,"d":-8.3,"e":20.4,"f":-10.6},
{"t":0.14444,"a":-10.9,"b":-5.2,"c":19.6,"d":-12.6,"e":17.6,"f":-5.2},
{"t":0.14491,"a":-16.1,"b":-4.7,"c":17.1,"d":-12.9,"e":18.5,"f":-4},
{"t":0.14537,"a":-15.7,"b":1.4,"c":17.5,"d":-17.5,"e":14.7,"f":1.5},
{"t":0.14583,"a":-18.7,"b":1.9,"c":13.3,"d":-16.7,"e":14.7,"f":2.2},
{"t":0.1463,"a":-18.2,"b":8,"c":13.7,"d":-19.9,"e":11.7,"f":6.7},
{"t":0.14676,"a":-19.9,"b":8.2,"c":8.2,"d":-19.2,"e":10.5,"f":10.7},
{"t":0.14722,"a":-18.2,"b":13.7,"c":8,"d":-17.4,"e":5.1,"f":10.8},
{"t":0.14769,"a":-18.7,"b":13.3,"c":1.9,"d":-18.7,"e":4.1,"f":14.8},
{"t":0.14815,"a":-15.7,"b":17.5,"c":1.4,"d":-15,"e":-1.5,"f":17.6},
{"t":0.14861,"a":-16.1,"b":17.1,"c":-4.7,"d":-14.7,"e":-2.8,"f":16.6},
{"t":0.14907,"a":-10.9,"b":19.6,"c":-5.2,"d":-11.3,"e":-7.5,"f":19.6},
{"t":0.14954,"a":-11,"b":18.5,"c":-11,"d":-10.6,"e":-8.3,"f":20.4},
{"t":0.15,"a":-5.2,"b":19.6,"c":-10.9,"d":-5.2,"e":-12.6,"f":17.6},
{"t":0.15046,"a":-4.7,"b":17.1,"c":-16.1,"d":-4,"e":-12.9,"f":18.5},
{"t":0.15093,"a":1.4,"b":17.5,"c":-15.7,"d":1.5,"e":-17.5,"f":14.7},
{"t":0.15139,"a":1.9,"b":13.3,"c":-18.7,"d":2.2,"e":-16.7,"f":14.7},
{"t":0.15185,"a":8,"b":13.7,"c":-18.2,"d":6.7,"e":-19.9,"f":11.7},
{"t":0.15231,"a":8.2,"b":8.2,"c":-19.9,"d":10.7,"e":-19.2,"f":10.5},
{"t":0.15278,"a":13.7,"b":8,"c":-18.2,"d":10.8,"e":-17.4,"f":5.1},
{"t":0.15324,"a":13.3,"b":1.9,"c":-18.7,"d":14.8,"e":-18.7,"f":4.1},
{"t":0.1537,"a":17.5,"b":1.4,"c":-15.7,"d":17.6,"e":-15,"f":-1.5},
{"t":0.15417,"a":17.1,"b":-4.7,"c":-16.1,"d":16.6,"e":-14.7,"f":-2.8},
{"t":0.15463,"a":19.6,"b":-5.2,"c":-10.9,"d":19.6,"e":-11.3,"f":-7.5},
{"t":0.15509,"a":18.5,"b":-11,"c":-11,"d":20.4,"e":-10.6,"f":-8.3},
{"t":0.15556,"a":19.6,"b":-10.9,"c":-5.2,"d":17.6,"e":-5.2,"f":-12.6},
{"t":0.15602,"a":17.1,"b":-16.1,"c":-4.7,"d":18.5,"e":-4,"f":-12.9},
{"t":0.15648,"a":17.5,"b":-15.7,"c":1.4,"d":14.7,"e":1.5,"f":-17.5},
{"t":0.15694,"a":13.3,"b":-18.7,"c":1.9,"d":14.7,"e":2.2,"f":-16.7},
{"t":0.15741,"a":13.7,"b":-18.2,"c":8,"d":11.7,"e":6.7,"f":-19.9},
{"t":0.15787,"a":8.2,"b":-19.9,"c":8.2,"d":10.5,"e":10.7,"f":-19.2},
{"t":0.15833,"a":8,"b":-18.2,"c":13.7,"d":5.1,"e":10.8,"f":-17.4},
{"t":0.1588,"a":1.9,"b":-18.7,"c":13.3,"d":4.1,"e":14.8,"f":-18.7},
{"t":0.15926,"a":1.4,"b":-15.7,"c":17.5,"d":-1.5,"e":17.6,"f":-15},
{"t":0.15972,"a":-4.7,"b":-16.1,"c":17.1,"d":-2.8,"e":16.6,"f":-14.7},
{"t":0.16019,"a":-5.2,"b":-10.9,"c":19.6,"d":-7.5,"e":19.6,"f":-11.3},
{"t":0.16065,"a":-11,"b":-11,"c":18.5,"d":-8.3,"e":20.4,"f":-10.6},
{"t":0.16111,"a":-10.9,"b":-5.2,"c":19.6,"d":-12.6,"e":17.6,"f":-5.2},
{"t":0.16157,"a":-16.1,"b":-4.7,"c":17.1,"d":-12.9,"e":18.5,"f":-4},
{"t":0.16204,"a":-15.7,"b":1.4,"c":17.5,"d":-17.5,"e":14.7,"f":1.5},
{"t":0.1625,"a":-18.7,"b":1.9,"c":13.3,"d":-16.7,"e":14.7,"f":2.2},
{"t":0.16296,"a":-18.2,"b":8,"c":13.7,"d":-19.9,"e":11.7,"f":6.7},
{"t":0.16343,"a":-19.9,"b":8.2,"c":8.2,"d":-19.2,"e":10.5,"f":10.7},
{"t":0.16389,"a":-18.2,"b":13.7,"c":8,"d":-17.4,"e":5.1,"f":10.8},
{"t":0.16435,"a":-18.7,"b":13.3,"c":1.9,"d":-18.7,"e":4.1,"f":14.8},
{"t":0.16481,"a":-15.7,"b":17.5,"c":1.4,"d":-15,"e":-1.5,"f":17.6},
{"t":0.16528,"a":-16.1,"b":17.1,"c":-4.7,"d":-14.7,"e":-2.8,"f":16.6},
{"t":0.16574,"a":-10.9,"b":19.6,"c":-5.2,"d":-11.3,"e":-7.5,"f":19.6},
{"t":0.1662,"a":-11,"b":18.5,"c":-11,"d":-10.6,"e":-8.3,"f":20.4},
{"t":0.16667,"a":-5.2,"b":19.6,"c":-10.9,"d":-5.2,"e":-12.6,"f":17.6},
{"t":0.16713,"a":-4.7,"b":17.1,"c":-16.1,"d":-4,"e":-12.9,"f":18.5},
{"t":0.16759,"a":1.4,"b":17.5,"c":-15.7,"d":1.5,"e":-17.5,"f":14.7},
{"t":0.16806,"a":1.9,"b":13.3,"c":-18.7,"d":2.2,"e":-16.7,"f":14.7},
{"t":0.16852,"a":8,"b":13.7,"c":-18.2,"d":6.7,"e":-19.9,"f":11.7},
{"t":0.16898,"a":8.2,"b":8.2,"c":-19.9,"d":10.7,"e":-19.2,"f":10.5},
{"t":0.16944,"a":13.7,"b":8,"c":-18.2,"d":10.8,"e":-17.4,"f":5.1},
{"t":0.16991,"a":13.3,"b":1.9,"c":-18.7,"d":14.8,"e":-18.7,"f":4.1},
{"t":0.17037,"a":17.5,"b":1.4,"c":-15.7,"d":17.6,"e":-15,"f":-1.5},
{"t":0.17083,"a":17.1,"b":-4.7,"c":-16.1,"d":16.6,"e":-14.7,"f":-2.8},
{"t":0.1713,"a":19.6,"b":-5.2,"c":-10.9,"d":19.6,"e":-11.3,"f":-7.5},
{"t":0.17176,"a":18.5,"b":-11,"c":-11,"d":20.4,"e":-10.6,"f":-8.3},
{"t":0.17222,"a":19.6,"b":-10.9,"c":-5.2,"d":17.6,"e":-5.2,"f":-12.6},
{"t":0.17269,"a":17.1,"b":-16.1,"c":-4.7,"d":18.5,"e":-4,"f":-12.9},
{"t":0.17315,"a":17.5,"b":-15.7,"c":1.4,"d":14.7,"e":1.5,"f":-17.5},
{"t":0.17361,"a":13.3,"b":-18.7,"c":1.9,"d":14.7,"e":2.2,"f":-16.7},
{"t":0.17407,"a":13.7,"b":-18.2,"c":8,"d":11.7,"e":6.7,"f":-19.9},
{"t":0.17454,"a":8.2,"b":-19.9,"c":8.2,"d":10.5,"e":10.7,"f":-19.2},
{"t":0.175,"a":8,"b":-18.2,"c":13.7,"d":5.1,"e":10.8,"f":-17.4},
{"t":0.17546,"a":1.9,"b":-18.7,"c":13.3,"d":4.1,"e":14.8,"f":-18.7},
{"t":0.17593,"a":1.4,"b":-15.7,"c":17.5,"d":-1.5,"e":17.6,"f":-15},
{"t":0.17639,"a":-4.7,"b":-16.1,"c":17.1,"d":-2.8,"e":16.6,"f":-14.7},
{"t":0.17685,"a":-5.2,"b":-10.9,"c":19.6,"d":-7.5,"e":19.6,"f":-11.3},
{"t":0.17731,"a":-11,"b":-11,"c":18.5,"d":-8.3,"e":20.4,"f":-10.6},
{"t":0.17778,"a":-10.9,"b":-5.2,"c":19.6,"d":-12.6,"e":17.6,"f":-5.2},
{"t":0.17824,"a":-16.1,"b":-4.7,"c":17.1,"d":-12.9,"e":18.5,"f":-4},
{"t":0.1787,"a":-15.7,"b":1.4,"c":17.5,"d":-17.5,"e":14.7,"f":1.5},
{"t":0.17917,"a":-18.7,"b":1.9,"c":13.3,"d":-16.7,"e":14.7,"f":2.2},
{"t":0.17963,"a":-18.2,"b":8,"c":13.7,"d":-19.9,"e":11.7,"f":6.7},
{"t":0.18009,"a":-19.9,"b":8.2,"c":8.2,"d":-19.2,"e":10.5,"f":10.7},
{"t":0.18056,"a":-18.2,"b":13.7,"c":8,"d":-17.4,"e":5.1,"f":10.8},
{"t":0.18102,"a":-18.7,"b":13.3,"c":1.9,"d":-18.7,"e":4.1,"f":14.8},
{"t":0.18148,"a":-15.7,"b":17.5,"c":1.4,"d":-15,"e":-1.5,"f":17.6},
{"t":0.18194,"a":-16.1,"b":17.1,"c":-4.7,"d":-14.7,"e":-2.8,"f":16.6},
{"t":0.18241,"a":-10.9,"b":19.6,"c":-5.2,"d":-11.3,"e":-7.5,"f":19.6},
{"t":0.18287,"a":-11,"b":18.5,"c":-11,"d":-10.6,"e":-8.3,"f":20.4},
{"t":0.18333,"a":-5.2,"b":19.6,"c":-10.9,"d":-5.2,"e":-12.6,"f":17.6},
{"t":0.1838,"a":-4.7,"b":17.1,"c":-16.1,"d":-4,"e":-12.9,"f":18.5},
{"t":0.18426,"a":1.4,"b":17.5,"c":-15.7,"d":1.5,"e":-17.5,"f":14.7},
{"t":0.18472,"a":1.9,"b":13.3,"c":-18.7,"d":2.2,"e":-16.7,"f":14.7},
{"t":0.18519,"a":8,"b":13.7,"c":-18.2,"d":6.7,"e":-19.9,"f":11.7},
{"t":0.18565,"a":8.2,"b":8.2,"c":-19.9,"d":10.7,"e":-19.2,"f":10.5},
{"t":0.18611,"a":13.7,"b":8,"c":-18.2,"d":10.8,"e":-17.4,"f":5.1},
{"t":0.18657,"a":13.3,"b":1.9,"c":-18.7,"d":14.8,"e":-18.7,"f":4.1},
{"t":0.18704,"a":17.5,"b":1.4,"c":-15.7,"d":17.6,"e":-15,"f":-1.5},
{"t":0.1875,"a":17.1,"b":-4.7,"c":-16.1,"d":16.6,"e":-14.7,"f":-2.8},
{"t":0.18796,"a":19.6,"b":-5.2,"c":-10.9,"d":19.6,"e":-11.3,"f":-7.5},
{"t":0.18843,"a":18.5,"b":-11,"c":-11,"d":20.4,"e":-10.6,"f":-8.3},
{"t":0.18889,"a":19.6,"b":-10.9,"c":-5.2,"d":17.6,"e":-5.2,"f":-12.6},
{"t":0.18935,"a":17.1,"b":-16.1,"c":-4.7,"d":18.5,"e":-4,"f":-12.9},
{"t":0.18981,"a":17.5,"b":-15.7,"c":1.4,"d":14.7,"e":1.5,"f":-17.5},
{"t":0.19028,"a":13.3,"b":-18.7,"c":1.9,"d":14.7,"e":2.2,"f":-16.7},
{"t":0.19074,"a":13.7,"b":-18.2,"c":8,"d":11.7,"e":6.7,"f":-19.9},
{"t":0.1912,"a":8.2,"b":-19.9,"c":8.2,"d":10.5,"e":10.7,"f":-19.2},
{"t":0.19167,"a":8,"b":-18.2,"c":13.7,"d":5.1,"e":10.8,"f":-17.4},
{"t":0.19213,"a":1.9,"b":-18.7,"c":13.3,"d":4.1,"e":14.8,"f":-18.7},
{"t":0.19259,"a":1.4,"b":-15.7,"c":17.5,"d":-1.5,"e":17.6,"f":-15},
{"t":0.19306,"a":-4.7,"b":-16.1,"c":17.1,"d":-2.8,"e":16.6,"f":-14.7},
{"t":0.19352,"a":-5.2,"b":-10.9,"c":19.6,"d":-7.5,"e":19.6,"f":-11.3},
{"t":0.19398,"a":-11,"b":-11,"c":18.5,"d":-8.3,"e":20.4,"f":-10.6},
{"t":0.19444,"a":-10.9,"b":-5.2,"c":19.6,"d":-12.6,"e":17.6,"f":-5.2},
{"t":0.19491,"a":-16.1,"b":-4.7,"c":17.1,"d":-12.9,"e":18.5,"f":-4},
{"t":0.19537,"a":-15.7,"b":1.4,"c":17.5,"d":-17.5,"e":14.7,"f":1.5},
{"t":0.19583,"a":-18.7,"b":1.9,"c":13.3,"d":-16.7,"e":14.7,"f":2.2},
{"t":0.1963,"a":-18.2,"b":8,"c":13.7,"d":-19.9,"e":11.7,"f":6.7},
{"t":0.19676,"a":-19.9,"b":8.2,"c":8.2,"d":-19.2,"e":10.5,"f":10.7},
{"t":0.19722,"a":-18.2,"b":13.7,"c":8,"d":-17.4,"e":5.1,"f":10.8},
{"t":0.19769,"a":-18.7,"b":13.3,"c":1.9,"d":-18.7,"e":4.1,"f":14.8},
{"t":0.19815,"a":-15.7,"b":17.5,"c":1.4,"d":-15,"e":-1.5,"f":17.6},
{"t":0.19861,"a":-16.1,"b":17.1,"c":-4.7,"d":-14.7,"e":-2.8,"f":16.6},
{"t":0.19907,"a":-10.9,"b":19.6,"c":-5.2,"d":-11.3,"e":-7.5,"f":19.6},
{"t":0.19954,"a":-11,"b":18.5,"c":-11,"d":-10.6,"e":-8.3,"f":20.4},
{"t":0.2,"a":-5.2,"b":19.6,"c":-10.9,"d":-5.2,"e":-12.6,"f":17.6}
],
"v2":[
{"t":0,"v":134},{"t":0.00032,"v":-134},{"t":0.00051,"v":134},{"t":0.00111,"v":268},{"t":0.00139,"v":134},{"t":0.00185,"v":268},{"t":0.00231,"v":134},{"t":0.00245,"v":0},{"t":0.00252,"v":134},{"t":0.00264,"v":268},{"t":0.00319,"v":134},{"t":0.00347,"v":268},{"t":0.00403,"v":134},{"t":0.00431,"v":268},{"t":0.00486,"v":134},{"t":0.005,"v":0},{"t":0.00507,"v":134},{"t":0.00514,"v":268},{"t":0.00569,"v":134},{"t":0.00581,"v":0},{"t":0.00588,"v":134},{"t":0.00602,"v":268},{"t":0.00648,"v":134},{"t":0.00694,"v":268},{"t":0.00722,"v":134},{"t":0.00778,"v":-134},{"t":0.00806,"v":134},{"t":0.00833,"v":-134},{"t":0.00866,"v":134},{"t":0.00884,"v":-134},{"t":0.00944,"v":-268},{"t":0.00972,"v":-134},{"t":0.01019,"v":-268},{"t":0.01065,"v":-134},{"t":0.01079,"v":0},{"t":0.01086,"v":-134},{"t":0.01097,"v":-268},{"t":0.01153,"v":-134},{"t":0.01181,"v":-268},{"t":0.01236,"v":-134},{"t":0.01264,"v":-268},{"t":0.01319,"v":-134},{"t":0.01333,"v":0},{"t":0.0134,"v":-134},{"t":0.01347,"v":-268},{"t":0.01403,"v":-134},{"t":0.01414,"v":0},{"t":0.01421,"v":-134},{"t":0.01435,"v":-268},{"t":0.01481,"v":-134},{"t":0.01528,"v":-268},{"t":0.01556,"v":-134},{"t":0.01611,"v":134},{"t":0.01639,"v":-134},
{"t":0.01667,"v":134},{"t":0.01699,"v":-134},{"t":0.01718,"v":134},{"t":0.01778,"v":268},{"t":0.01806,"v":134},{"t":0.01852,"v":268},{"t":0.01898,"v":134},{"t":0.01912,"v":0},{"t":0.01919,"v":134},{"t":0.01931,"v":268},{"t":0.01986,"v":134},{"t":0.02014,"v":268},{"t":0.0207,"v":134},{"t":0.02098,"v":268},{"t":0.02153,"v":134},{"t":0.02167,"v":0},{"t":0.02174,"v":134},{"t":0.02181,"v":268},{"t":0.02236,"v":134},{"t":0.02248,"v":0},{"t":0.02255,"v":134},{"t":0.02269,"v":268},{"t":0.02315,"v":134},{"t":0.02361,"v":268},{"t":0.02389,"v":134},{"t":0.02445,"v":-134},{"t":0.02473,"v":134},{"t":0.025,"v":-134},{"t":0.02533,"v":134},{"t":0.02551,"v":-134},{"t":0.02611,"v":-268},{"t":0.02639,"v":-134},{"t":0.02686,"v":-268},{"t":0.02732,"v":-134},{"t":0.02746,"v":0},{"t":0.02753,"v":-134},{"t":0.02764,"v":-268},{"t":0.0282,"v":-134},{"t":0.02848,"v":-268},{"t":0.02903,"v":-134},{"t":0.02931,"v":-268},{"t":0.02986,"v":-134},{"t":0.03,"v":0},{"t":0.03007,"v":-134},{"t":0.03014,"v":-268},{"t":0.0307,"v":-134},{"t":0.03081,"v":0},{"t":0.03088,"v":-134},{"t":0.03102,"v":-268},{"t":0.03148,"v":-134},{"t":0.03195,"v":-268},{"t":0.03223,"v":-134},{"t":0.03278,"v":134},{"t":0.03306,"v":-134},
{"t":0.03333,"v":134},{"t":0.03365,"v":-134},{"t":0.03384,"v":134},{"t":0.03444,"v":268},{"t":0.03472,"v":134},{"t":0.03518,"v":268},{"t":0.03564,"v":134},{"t":0.03578,"v":0},{"t":0.03585,"v":134},{"t":0.03597,"v":268},{"t":0.03652,"v":134},{"t":0.0368,"v":268},{"t":0.03736,"v":134},{"t":0.03764,"v":268},{"t":0.03819,"v":134},{"t":0.03833,"v":0},{"t":0.0384,"v":134},{"t":0.03847,"v":268},{"t":0.03902,"v":134},{"t":0.03914,"v":0},{"t":0.03921,"v":134},{"t":0.03935,"v":268},{"t":0.03981,"v":134},{"t":0.04027,"v":268},{"t":0.04055,"v":134},{"t":0.04111,"v":-134},{"t":0.04139,"v":134},{"t":0.04166,"v":-134},{"t":0.04199,"v":134},{"t":0.04217,"v":-134},{"t":0.04277,"v":-268},{"t":0.04305,"v":-134},{"t":0.04352,"v":-268},{"t":0.04398,"v":-134},{"t":0.04412,"v":0},{"t":0.04419,"v":-134},{"t":0.0443,"v":-268},{"t":0.04486,"v":-134},{"t":0.04514,"v":-268},{"t":0.04569,"v":-134},{"t":0.04597,"v":-268},{"t":0.04652,"v":-134},{"t":0.04666,"v":0},{"t":0.04673,"v":-134},{"t":0.0468,"v":-268},{"t":0.04736,"v":-134},{"t":0.04747,"v":0},{"t":0.04754,"v":-134},{"t":0.04768,"v":-268},{"t":0.04814,"v":-134},{"t":0.04861,"v":-268},{"t":0.04889,"v":-134},{"t":0.04944,"v":134},{"t":0.04972,"v":-134},
{"t":0.05,"v":134},{"t":0.05032,"v":-134},{"t":0.05051,"v":134},{"t":0.05111,"v":268},{"t":0.05139,"v":134},{"t":0.05185,"v":268},{"t":0.05231,"v":134},{"t":0.05245,"v":0},{"t":0.05252,"v":134},{"t":0.05264,"v":268},{"t":0.05319,"v":134},{"t":0.05347,"v":268},{"t":0.05403,"v":134},{"t":0.05431,"v":268},{"t":0.05486,"v":134},{"t":0.055,"v":0},{"t":0.05507,"v":134},{"t":0.05514,"v":268},{"t":0.05569,"v":134},{"t":0.05581,"v":0},{"t":0.05588,"v":134},{"t":0.05602,"v":268},{"t":0.05648,"v":134},{"t":0.05694,"v":268},{"t":0.05722,"v":134},{"t":0.05778,"v":-134},{"t":0.05806,"v":134},{"t":0.05833,"v":-134},{"t":0.05866,"v":134},{"t":0.05884,"v":-134},{"t":0.05944,"v":-268},{"t":0.05972,"v":-134},{"t":0.06019,"v":-268},{"t":0.06065,"v":-134},{"t":0.06079,"v":0},{"t":0.06086,"v":-134},{"t":0.06097,"v":-268},{"t":0.06153,"v":-134},{"t":0.06181,"v":-268},{"t":0.06236,"v":-134},{"t":0.06264,"v":-268},{"t":0.06319,"v":-134},{"t":0.06333,"v":0},{"t":0.0634,"v":-134},{"t":0.06347,"v":-268},{"t":0.06403,"v":-134},{"t":0.06414,"v":0},{"t":0.06421,"v":-134},{"t":0.06435,"v":-268},{"t":0.06481,"v":-134},{"t":0.06528,"v":-268},{"t":0.06556,"v":-134},{"t":0.06611,"v":134},{"t":0.06639,"v":-134},
{"t":0.06667,"v":134},{"t":0.06699,"v":-134},{"t":0.06718,"v":134},{"t":0.06778,"v":268},{"t":0.06806,"v":134},{"t":0.06852,"v":268},{"t":0.06898,"v":134},{"t":0.06912,"v":0},{"t":0.06919,"v":134},{"t":0.06931,"v":268},{"t":0.06986,"v":134},{"t":0.07014,"v":268},{"t":0.0707,"v":134},{"t":0.07098,"v":268},{"t":0.07153,"v":134},{"t":0.07167,"v":0},{"t":0.07174,"v":134},{"t":0.07181,"v":268},{"t":0.07236,"v":134},{"t":0.07248,"v":0},{"t":0.07255,"v":134},{"t":0.07269,"v":268},{"t":0.07315,"v":134},{"t":0.07361,"v":268},{"t":0.07389,"v":134},{"t":0.07445,"v":-134},{"t":0.07473,"v":134},{"t":0.075,"v":-134},{"t":0.07533,"v":134},{"t":0.07551,"v":-134},{"t":0.07611,"v":-268},{"t":0.07639,"v":-134},{"t":0.07686,"v":-268},{"t":0.07732,"v":-134},{"t":0.07746,"v":0},{"t":0.07753,"v":-134},{"t":0.07764,"v":-268},{"t":0.0782,"v":-134},{"t":0.07848,"v":-268},{"t":0.07903,"v":-134},{"t":0.07931,"v":-268},{"t":0.07986,"v":-134},{"t":0.08,"v":0},{"t":0.08007,"v":-134},{"t":0.08014,"v":-268},{"t":0.0807,"v":-134},{"t":0.08081,"v":0},{"t":0.08088,"v":-134},{"t":0.08102,"v":-268},{"t":0.08148,"v":-134},{"t":0.08195,"v":-268},{"t":0.08223,"v":-134},{"t":0.08278,"v":134},{"t":0.08306,"v":-134},
{"t":0.08333,"v":134},{"t":0.08365,"v":-134},{"t":0.08384,"v":134},{"t":0.08444,"v":268},{"t":0.08472,"v":134},{"t":0.08518,"v":268},{"t":0.08564,"v":134},{"t":0.08578,"v":0},{"t":0.08585,"v":134},{"t":0.08597,"v":268},{"t":0.08652,"v":134},{"t":0.0868,"v":268},{"t":0.08736,"v":134},{"t":0.08764,"v":268},{"t":0.08819,"v":134},{"t":0.08833,"v":0},{"t":0.0884,"v":134},{"t":0.08847,"v":268},{"t":0.08902,"v":134},{"t":0.08914,"v":0},{"t":0.08921,"v":134},{"t":0.08935,"v":268},{"t":0.08981,"v":134},{"t":0.09027,"v":268},{"t":0.09055,"v":134},{"t":0.09111,"v":-134},{"t":0.09139,"v":134},{"t":0.09166,"v":-134},{"t":0.09199,"v":134},{"t":0.09217,"v":-134},{"t":0.09277,"v":-268},{"t":0.09305,"v":-134},{"t":0.09352,"v":-268},{"t":0.09398,"v":-134},{"t":0.09412,"v":0},{"t":0.09419,"v":-134},{"t":0.0943,"v":-268},{"t":0.09486,"v":-134},{"t":0.09514,"v":-268},{"t":0.09569,"v":-134},{"t":0.09597,"v":-268},{"t":0.09652,"v":-134},{"t":0.09666,"v":0},{"t":0.09673,"v":-134},{"t":0.0968,"v":-268},{"t":0.09736,"v":-134},{"t":0.09747,"v":0},{"t":0.09754,"v":-134},{"t":0.09768,"v":-268},{"t":0.09814,"v":-134},{"t":0.09861,"v":-268},{"t":0.09889,"v":-134},{"t":0.09944,"v":134},{"t":0.09972,"v":-134},
{"t":0.1,"v":134},{"t":0.10032,"v":-134},{"t":0.10051,"v":134},{"t":0.10111,"v":268},{"t":0.10139,"v":134},{"t":0.10185,"v":268},{"t":0.10231,"v":134},{"t":0.10245,"v":0},{"t":0.10252,"v":134},{"t":0.10264,"v":268},{"t":0.10319,"v":134},{"t":0.10347,"v":268},{"t":0.10403,"v":134},{"t":0.10431,"v":268},{"t":0.10486,"v":134},{"t":0.105,"v":0},{"t":0.10507,"v":134},{"t":0.10514,"v":268},{"t":0.10569,"v":134},{"t":0.10581,"v":0},{"t":0.10588,"v":134},{"t":0.10602,"v":268},{"t":0.10648,"v":134},{"t":0.10694,"v":268},{"t":0.10722,"v":134},{"t":0.10778,"v":-134},{"t":0.10806,"v":134},{"t":0.10833,"v":-134},{"t":0.10866,"v":134},{"t":0.10884,"v":-134},{"t":0.10944,"v":-268},{"t":0.10972,"v":-134},{"t":0.11019,"v":-268},{"t":0.11065,"v":-134},{"t":0.11079,"v":0},{"t":0.11086,"v":-134},{"t":0.11097,"v":-268},{"t":0.11153,"v":-134},{"t":0.11181,"v":-268},{"t":0.11236,"v":-134},{"t":0.11264,"v":-268},{"t":0.11319,"v":-134},{"t":0.11333,"v":0},{"t":0.1134,"v":-134},{"t":0.11347,"v":-268},{"t":0.11403,"v":-134},{"t":0.11414,"v":0},{"t":0.11421,"v":-134},{"t":0.11435,"v":-268},{"t":0.11481,"v":-134},{"t":0.11528,"v":-268},{"t":0.11556,"v":-134},{"t":0.11611,"v":134},{"t":0.11639,"v":-134},
{"t":0.11667,"v":134},{"t":0.11699,"v":-134},{"t":0.11718,"v":134},{"t":0.11778,"v":268},{"t":0.11806,"v":134},{"t":0.11852,"v":268},{"t":0.11898,"v":134},{"t":0.11912,"v":0},{"t":0.11919,"v":134},{"t":0.11931,"v":268},{"t":0.11986,"v":134},{"t":0.12014,"v":268},{"t":0.1207,"v":134},{"t":0.12098,"v":268},{"t":0.12153,"v":134},{"t":0.12167,"v":0},{"t":0.12174,"v":134},{"t":0.12181,"v":268},{"t":0.12236,"v":134},{"t":0.12248,"v":0},{"t":0.12255,"v":134},{"t":0.12269,"v":268},{"t":0.12315,"v":134},{"t":0.12361,"v":268},{"t":0.12389,"v":134},{"t":0.12445,"v":-134},{"t":0.12473,"v":134},{"t":0.125,"v":-134},{"t":0.12533,"v":134},{"t":0.12551,"v":-134},{"t":0.12611,"v":-268},{"t":0.12639,"v":-134},{"t":0.12686,"v":-268},{"t":0.12732,"v":-134},{"t":0.12746,"v":0},{"t":0.12753,"v":-134},{"t":0.12764,"v":-268},{"t":0.1282,"v":-134},{"t":0.12848,"v":-268},{"t":0.12903,"v":-134},{"t":0.12931,"v":-268},{"t":0.12986,"v":-134},{"t":0.13,"v":0},{"t":0.13007,"v":-134},{"t":0.13014,"v":-268},{"t":0.1307,"v":-134},{"t":0.13081,"v":0},{"t":0.13088,"v":-134},{"t":0.13102,"v":-268},{"t":0.13148,"v":-134},{"t":0.13195,"v":-268},{"t":0.13223,"v":-134},{"t":0.13278,"v":134},{"t":0.13306,"v":-134},
{"t":0.13333,"v":134},{"t":0.13365,"v":-134},{"t":0.13384,"v":134},{"t":0.13444,"v":268},{"t":0.13472,"v":134},{"t":0.13518,"v":268},{"t":0.13564,"v":134},{"t":0.13578,"v":0},{"t":0.13585,"v":134},{"t":0.13597,"v":268},{"t":0.13652,"v":134},{"t":0.1368,"v":268},{"t":0.13736,"v":134},{"t":0.13764,"v":268},{"t":0.13819,"v":134},{"t":0.13833,"v":0},{"t":0.1384,"v":134},{"t":0.13847,"v":268},{"t":0.13902,"v":134},{"t":0.13914,"v":0},{"t":0.13921,"v":134},{"t":0.13935,"v":268},{"t":0.13981,"v":134},{"t":0.14027,"v":268},{"t":0.14055,"v":134},{"t":0.14111,"v":-134},{"t":0.14139,"v":134},{"t":0.14166,"v":-134},{"t":0.14199,"v":134},{"t":0.14217,"v":-134},{"t":0.14277,"v":-268},{"t":0.14305,"v":-134},{"t":0.14352,"v":-268},{"t":0.14398,"v":-134},{"t":0.14412,"v":0},{"t":0.14419,"v":-134},{"t":0.1443,"v":-268},{"t":0.14486,"v":-134},{"t":0.14514,"v":-268},{"t":0.14569,"v":-134},{"t":0.14597,"v":-268},{"t":0.14652,"v":-134},{"t":0.14666,"v":0},{"t":0.14673,"v":-134},{"t":0.1468,"v":-268},{"t":0.14736,"v":-134},{"t":0.14747,"v":0},{"t":0.14754,"v":-134},{"t":0.14768,"v":-268},{"t":0.14814,"v":-134},{"t":0.14861,"v":-268},{"t":0.14889,"v":-134},{"t":0.14944,"v":134},{"t":0.14972,"v":-134},
{"t":0.15,"v":134},{"t":0.15032,"v":-134},{"t":0.15051,"v":134},{"t":0.15111,"v":268},{"t":0.15139,"v":134},{"t":0.15185,"v":268},{"t":0.15231,"v":134},{"t":0.15245,"v":0},{"t":0.15252,"v":134},{"t":0.15264,"v":268},{"t":0.15319,"v":134},{"t":0.15347,"v":268},{"t":0.15403,"v":134},{"t":0.15431,"v":268},{"t":0.15486,"v":134},{"t":0.155,"v":0},{"t":0.15507,"v":134},{"t":0.15514,"v":268},{"t":0.15569,"v":134},{"t":0.15581,"v":0},{"t":0.15588,"v":134},{"t":0.15602,"v":268},{"t":0.15648,"v":134},{"t":0.15694,"v":268},{"t":0.15722,"v":134},{"t":0.15778,"v":-134},{"t":0.15806,"v":134},{"t":0.15833,"v":-134},{"t":0.15866,"v":134},{"t":0.15884,"v":-134},{"t":0.15944,"v":-268},{"t":0.15972,"v":-134},{"t":0.16019,"v":-268},{"t":0.16065,"v":-134},{"t":0.16079,"v":0},{"t":0.16086,"v":-134},{"t":0.16097,"v":-268},{"t":0.16153,"v":-134},{"t":0.16181,"v":-268},{"t":0.16236,"v":-134},{"t":0.16264,"v":-268},{"t":0.16319,"v":-134},{"t":0.16333,"v":0},{"t":0.1634,"v":-134},{"t":0.16347,"v":-268},{"t":0.16403,"v":-134},{"t":0.16414,"v":0},{"t":0.16421,"v":-134},{"t":0.16435,"v":-268},{"t":0.16481,"v":-134},{"t":0.16528,"v":-268},{"t":0.16556,"v":-134},{"t":0.16611,"v":134},{"t":0.16639,"v":-134},
{"t":0.16667,"v":134},{"t":0.16699,"v":-134},{"t":0.16718,"v":134},{"t":0.16778,"v":268},{"t":0.16806,"v":134},{"t":0.16852,"v":268},{"t":0.16898,"v":134},{"t":0.16912,"v":0},{"t":0.16919,"v":134},{"t":0.16931,"v":268},{"t":0.16986,"v":134},{"t":0.17014,"v":268},{"t":0.1707,"v":134},{"t":0.17098,"v":268},{"t":0.17153,"v":134},{"t":0.17167,"v":0},{"t":0.17174,"v":134},{"t":0.17181,"v":268},{"t":0.17236,"v":134},{"t":0.17248,"v":0},{"t":0.17255,"v":134},{"t":0.17269,"v":268},{"t":0.17315,"v":134},{"t":0.17361,"v":268},{"t":0.17389,"v":134},{"t":0.17445,"v":-134},{"t":0.17473,"v":134},{"t":0.175,"v":-134},{"t":0.17533,"v":134},{"t":0.17551,"v":-134},{"t":0.17611,"v":-268},{"t":0.17639,"v":-134},{"t":0.17686,"v":-268},{"t":0.17732,"v":-134},{"t":0.17746,"v":0},{"t":0.17753,"v":-134},{"t":0.17764,"v":-268},{"t":0.1782,"v":-134},{"t":0.17848,"v":-268},{"t":0.17903,"v":-134},{"t":0.17931,"v":-268},{"t":0.17986,"v":-134},{"t":0.18,"v":0},{"t":0.18007,"v":-134},{"t":0.18014,"v":-268},{"t":0.1807,"v":-134},{"t":0.18081,"v":0},{"t":0.18088,"v":-134},{"t":0.18102,"v":-268},{"t":0.18148,"v":-134},{"t":0.18195,"v":-268},{"t":0.18223,"v":-134},{"t":0.18278,"v":134},{"t":0.18306,"v":-134},
{"t":0.18333,"v":134},{"t":0.18365,"v":-134},{"t":0.18384,"v":134},{"t":0.18444,"v":268},{"t":0.18472,"v":134},{"t":0.18518,"v":268},{"t":0.18564,"v":134},{"t":0.18578,"v":0},{"t":0.18585,"v":134},{"t":0.18597,"v":268},{"t":0.18652,"v":134},{"t":0.1868,"v":268},{"t":0.18736,"v":134},{"t":0.18764,"v":268},{"t":0.18819,"v":134},{"t":0.18833,"v":0},{"t":0.1884,"v":134},{"t":0.18847,"v":268},{"t":0.18902,"v":134},{"t":0.18914,"v":0},{"t":0.18921,"v":134},{"t":0.18935,"v":268},{"t":0.18981,"v":134},{"t":0.19027,"v":268},{"t":0.19055,"v":134},{"t":0.19111,"v":-134},{"t":0.19139,"v":134},{"t":0.19166,"v":-134},{"t":0.19199,"v":134},{"t":0.19217,"v":-134},{"t":0.19277,"v":-268},{"t":0.19305,"v":-134},{"t":0.19352,"v":-268},{"t":0.19398,"v":-134},{"t":0.19412,"v":0},{"t":0.19419,"v":-134},{"t":0.1943,"v":-268},{"t":0.19486,"v":-134},{"t":0.19514,"v":-268},{"t":0.19569,"v":-134},{"t":0.19597,"v":-268},{"t":0.19652,"v":-134},{"t":0.19666,"v":0},{"t":0.19673,"v":-134},{"t":0.1968,"v":-268},{"t":0.19736,"v":-134},{"t":0.19747,"v":0},{"t":0.19754,"v":-134},{"t":0.19768,"v":-268},{"t":0.19814,"v":-134},{"t":0.19861,"v":-268},{"t":0.19889,"v":-134},{"t":0.19944,"v":134},{"t":0.19972,"v":-134},
{"t":0.2,"v":-134}
],
"v4":[
{"t":0,"v":0},
{"t":0.00005,"v":-134},{"t":0.00012,"v":0},{"t":0.00025,"v":134},{"t":0.00067,"v":0},{"t":0.00104,"v":134},{"t":0.00178,"v":0},{"t":0.00185,"v":134},{"t":0.00222,"v":268},{"t":0.00241,"v":134},{"t":0.00308,"v":268},{"t":0.0034,"v":134},{"t":0.00396,"v":268},{"t":0.00438,"v":134},{"t":0.00493,"v":268},{"t":0.00525,"v":134},{"t":0.00553,"v":0},{"t":0.00558,"v":134},{"t":0.00593,"v":268},{"t":0.00611,"v":134},{"t":0.00648,"v":0},{"t":0.00655,"v":134},{"t":0.00729,"v":0},{"t":0.00766,"v":134},{"t":0.00808,"v":0},{"t":0.00822,"v":-134},{"t":0.00829,"v":0},{"t":0.00838,"v":134},{"t":0.00845,"v":0},{"t":0.00859,"v":-134},{"t":0.009,"v":0},{"t":0.00938,"v":-134},{"t":0.01012,"v":0},{"t":0.01019,"v":-134},{"t":0.01056,"v":-268},{"t":0.01074,"v":-134},{"t":0.01141,"v":-268},{"t":0.01174,"v":-134},{"t":0.01229,"v":-268},{"t":0.01271,"v":-134},{"t":0.01326,"v":-268},{"t":0.01359,"v":-134},{"t":0.01387,"v":0},{"t":0.01391,"v":-134},{"t":0.01426,"v":-268},{"t":0.01444,"v":-134},{"t":0.01481,"v":0},{"t":0.01488,"v":-134},{"t":0.01563,"v":0},{"t":0.016,"v":-134},{"t":0.01641,"v":0},{"t":0.01655,"v":134},{"t":0.01662,"v":0},
{"t":0.01672,"v":-134},{"t":0.01679,"v":0},{"t":0.01692,"v":134},{"t":0.01734,"v":0},{"t":0.01771,"v":134},{"t":0.01845,"v":0},{"t":0.01852,"v":134},{"t":0.01889,"v":268},{"t":0.01908,"v":134},{"t":0.01975,"v":268},{"t":0.02007,"v":134},{"t":0.02063,"v":268},{"t":0.02105,"v":134},{"t":0.0216,"v":268},{"t":0.02192,"v":134},{"t":0.0222,"v":0},{"t":0.02225,"v":134},{"t":0.0226,"v":268},{"t":0.02278,"v":134},{"t":0.02315,"v":0},{"t":0.02322,"v":134},{"t":0.02396,"v":0},{"t":0.02433,"v":134},{"t":0.02475,"v":0},{"t":0.02489,"v":-134},{"t":0.02496,"v":0},{"t":0.02505,"v":134},{"t":0.02512,"v":0},{"t":0.02526,"v":-134},{"t":0.02567,"v":0},{"t":0.02605,"v":-134},{"t":0.02679,"v":0},{"t":0.02686,"v":-134},{"t":0.02723,"v":-268},{"t":0.02741,"v":-134},{"t":0.02808,"v":-268},{"t":0.02841,"v":-134},{"t":0.02896,"v":-268},{"t":0.02938,"v":-134},{"t":0.02993,"v":-268},{"t":0.03026,"v":-134},{"t":0.03054,"v":0},{"t":0.03058,"v":-134},{"t":0.03093,"v":-268},{"t":0.03111,"v":-134},{"t":0.03148,"v":0},{"t":0.03155,"v":-134},{"t":0.0323,"v":0},{"t":0.03267,"v":-134},{"t":0.03308,"v":0},{"t":0.03322,"v":134},{"t":0.03329,"v":0},
{"t":0.03338,"v":-134},{"t":0.03345,"v":0},{"t":0.03358,"v":134},{"t":0.034,"v":0},{"t":0.03437,"v":134},{"t":0.03511,"v":0},{"t":0.03518,"v":134},{"t":0.03555,"v":268},{"t":0.03574,"v":134},{"t":0.03641,"v":268},{"t":0.03673,"v":134},{"t":0.03729,"v":268},{"t":0.03771,"v":134},{"t":0.03826,"v":268},{"t":0.03858,"v":134},{"t":0.03886,"v":0},{"t":0.03891,"v":134},{"t":0.03926,"v":268},{"t":0.03944,"v":134},{"t":0.03981,"v":0},{"t":0.03988,"v":134},{"t":0.04062,"v":0},{"t":0.04099,"v":134},{"t":0.04141,"v":0},{"t":0.04155,"v":-134},{"t":0.04162,"v":0},{"t":0.04171,"v":134},{"t":0.04178,"v":0},{"t":0.04192,"v":-134},{"t":0.04233,"v":0},{"t":0.04271,"v":-134},{"t":0.04345,"v":0},{"t":0.04352,"v":-134},{"t":0.04389,"v":-268},{"t":0.04407,"v":-134},{"t":0.04474,"v":-268},{"t":0.04507,"v":-134},{"t":0.04562,"v":-268},{"t":0.04604,"v":-134},{"t":0.04659,"v":-268},{"t":0.04692,"v":-134},{"t":0.0472,"v":0},{"t":0.04724,"v":-134},{"t":0.04759,"v":-268},{"t":0.04777,"v":-134},{"t":0.04814,"v":0},{"t":0.04821,"v":-134},{"t":0.04896,"v":0},{"t":0.04933,"v":-134},{"t":0.04974,"v":0},{"t":0.04988,"v":134},{"t":0.04995,"v":0},
{"t":0.05005,"v":-134},{"t":0.05012,"v":0},{"t":0.05025,"v":134},{"t":0.05067,"v":0},{"t":0.05104,"v":134},{"t":0.05178,"v":0},{"t":0.05185,"v":134},{"t":0.05222,"v":268},{"t":0.05241,"v":134},{"t":0.05308,"v":268},{"t":0.0534,"v":134},{"t":0.05396,"v":268},{"t":0.05438,"v":134},{"t":0.05493,"v":268},{"t":0.05525,"v":134},{"t":0.05553,"v":0},{"t":0.05558,"v":134},{"t":0.05593,"v":268},{"t":0.05611,"v":134},{"t":0.05648,"v":0},{"t":0.05655,"v":134},{"t":0.05729,"v":0},{"t":0.05766,"v":134},{"t":0.05808,"v":0},{"t":0.05822,"v":-134},{"t":0.05829,"v":0},{"t":0.05838,"v":134},{"t":0.05845,"v":0},{"t":0.05859,"v":-134},{"t":0.059,"v":0},{"t":0.05938,"v":-134},{"t":0.06012,"v":0},{"t":0.06019,"v":-134},{"t":0.06056,"v":-268},{"t":0.06074,"v":-134},{"t":0.06141,"v":-268},{"t":0.06174,"v":-134},{"t":0.06229,"v":-268},{"t":0.06271,"v":-134},{"t":0.06326,"v":-268},{"t":0.06359,"v":-134},{"t":0.06387,"v":0},{"t":0.06391,"v":-134},{"t":0.06426,"v":-268},{"t":0.06444,"v":-134},{"t":0.06481,"v":0},{"t":0.06488,"v":-134},{"t":0.06563,"v":0},{"t":0.066,"v":-134},{"t":0.06641,"v":0},{"t":0.06655,"v":134},{"t":0.06662,"v":0},
{"t":0.06672,"v":-134},{"t":0.06679,"v":0},{"t":0.06692,"v":134},{"t":0.06734,"v":0},{"t":0.06771,"v":134},{"t":0.06845,"v":0},{"t":0.06852,"v":134},{"t":0.06889,"v":268},{"t":0.06908,"v":134},{"t":0.06975,"v":268},{"t":0.07007,"v":134},{"t":0.07063,"v":268},{"t":0.07105,"v":134},{"t":0.0716,"v":268},{"t":0.07192,"v":134},{"t":0.0722,"v":0},{"t":0.07225,"v":134},{"t":0.0726,"v":268},{"t":0.07278,"v":134},{"t":0.07315,"v":0},{"t":0.07322,"v":134},{"t":0.07396,"v":0},{"t":0.07433,"v":134},{"t":0.07475,"v":0},{"t":0.07489,"v":-134},{"t":0.07496,"v":0},{"t":0.07505,"v":134},{"t":0.07512,"v":0},{"t":0.07526,"v":-134},{"t":0.07567,"v":0},{"t":0.07605,"v":-134},{"t":0.07679,"v":0},{"t":0.07686,"v":-134},{"t":0.07723,"v":-268},{"t":0.07741,"v":-134},{"t":0.07808,"v":-268},{"t":0.07841,"v":-134},{"t":0.07896,"v":-268},{"t":0.07938,"v":-134},{"t":0.07993,"v":-268},{"t":0.08026,"v":-134},{"t":0.08054,"v":0},{"t":0.08058,"v":-134},{"t":0.08093,"v":-268},{"t":0.08111,"v":-134},{"t":0.08148,"v":0},{"t":0.08155,"v":-134},{"t":0.0823,"v":0},{"t":0.08267,"v":-134},{"t":0.08308,"v":0},{"t":0.08322,"v":134},{"t":0.08329,"v":0},
{"t":0.08338,"v":-134},{"t":0.08345,"v":0},{"t":0.08358,"v":134},{"t":0.084,"v":0},{"t":0.08437,"v":134},{"t":0.08511,"v":0},{"t":0.08518,"v":134},{"t":0.08555,"v":268},{"t":0.08574,"v":134},{"t":0.08641,"v":268},{"t":0.08673,"v":134},{"t":0.08729,"v":268},{"t":0.08771,"v":134},{"t":0.08826,"v":268},{"t":0.08858,"v":134},{"t":0.08886,"v":0},{"t":0.08891,"v":134},{"t":0.08926,"v":268},{"t":0.08944,"v":134},{"t":0.08981,"v":0},{"t":0.08988,"v":134},{"t":0.09062,"v":0},{"t":0.09099,"v":134},{"t":0.09141,"v":0},{"t":0.09155,"v":-134},{"t":0.09162,"v":0},{"t":0.09171,"v":134},{"t":0.09178,"v":0},{"t":0.09192,"v":-134},{"t":0.09233,"v":0},{"t":0.09271,"v":-134},{"t":0.09345,"v":0},{"t":0.09352,"v":-134},{"t":0.09389,"v":-268},{"t":0.09407,"v":-134},{"t":0.09474,"v":-268},{"t":0.09507,"v":-134},{"t":0.09562,"v":-268},{"t":0.09604,"v":-134},{"t":0.09659,"v":-268},{"t":0.09692,"v":-134},{"t":0.0972,"v":0},{"t":0.09724,"v":-134},{"t":0.09759,"v":-268},{"t":0.09777,"v":-134},{"t":0.09814,"v":0},{"t":0.09821,"v":-134},{"t":0.09896,"v":0},{"t":0.09933,"v":-134},{"t":0.09974,"v":0},{"t":0.09988,"v":134},{"t":0.09995,"v":0},
{"t":0.10005,"v":-134},{"t":0.10012,"v":0},{"t":0.10025,"v":134},{"t":0.10067,"v":0},{"t":0.10104,"v":134},{"t":0.10178,"v":0},{"t":0.10185,"v":134},{"t":0.10222,"v":268},{"t":0.10241,"v":134},{"t":0.10308,"v":268},{"t":0.1034,"v":134},{"t":0.10396,"v":268},{"t":0.10438,"v":134},{"t":0.10493,"v":268},{"t":0.10525,"v":134},{"t":0.10553,"v":0},{"t":0.10558,"v":134},{"t":0.10593,"v":268},{"t":0.10611,"v":134},{"t":0.10648,"v":0},{"t":0.10655,"v":134},{"t":0.10729,"v":0},{"t":0.10766,"v":134},{"t":0.10808,"v":0},{"t":0.10822,"v":-134},{"t":0.10829,"v":0},{"t":0.10838,"v":134},{"t":0.10845,"v":0},{"t":0.10859,"v":-134},{"t":0.109,"v":0},{"t":0.10938,"v":-134},{"t":0.11012,"v":0},{"t":0.11019,"v":-134},{"t":0.11056,"v":-268},{"t":0.11074,"v":-134},{"t":0.11141,"v":-268},{"t":0.11174,"v":-134},{"t":0.11229,"v":-268},{"t":0.11271,"v":-134},{"t":0.11326,"v":-268},{"t":0.11359,"v":-134},{"t":0.11387,"v":0},{"t":0.11391,"v":-134},{"t":0.11426,"v":-268},{"t":0.11444,"v":-134},{"t":0.11481,"v":0},{"t":0.11488,"v":-134},{"t":0.11563,"v":0},{"t":0.116,"v":-134},{"t":0.11641,"v":0},{"t":0.11655,"v":134},{"t":0.11662,"v":0},
{"t":0.11672,"v":-134},{"t":0.11679,"v":0},{"t":0.11692,"v":134},{"t":0.11734,"v":0},{"t":0.11771,"v":134},{"t":0.11845,"v":0},{"t":0.11852,"v":134},{"t":0.11889,"v":268},{"t":0.11908,"v":134},{"t":0.11975,"v":268},{"t":0.12007,"v":134},{"t":0.12063,"v":268},{"t":0.12105,"v":134},{"t":0.1216,"v":268},{"t":0.12192,"v":134},{"t":0.1222,"v":0},{"t":0.12225,"v":134},{"t":0.1226,"v":268},{"t":0.12278,"v":134},{"t":0.12315,"v":0},{"t":0.12322,"v":134},{"t":0.12396,"v":0},{"t":0.12433,"v":134},{"t":0.12475,"v":0},{"t":0.12489,"v":-134},{"t":0.12496,"v":0},{"t":0.12505,"v":134},{"t":0.12512,"v":0},{"t":0.12526,"v":-134},{"t":0.12567,"v":0},{"t":0.12605,"v":-134},{"t":0.12679,"v":0},{"t":0.12686,"v":-134},{"t":0.12723,"v":-268},{"t":0.12741,"v":-134},{"t":0.12808,"v":-268},{"t":0.12841,"v":-134},{"t":0.12896,"v":-268},{"t":0.12938,"v":-134},{"t":0.12993,"v":-268},{"t":0.13026,"v":-134},{"t":0.13054,"v":0},{"t":0.13058,"v":-134},{"t":0.13093,"v":-268},{"t":0.13111,"v":-134},{"t":0.13148,"v":0},{"t":0.13155,"v":-134},{"t":0.1323,"v":0},{"t":0.13267,"v":-134},{"t":0.13308,"v":0},{"t":0.13322,"v":134},{"t":0.13329,"v":0},
{"t":0.13338,"v":-134},{"t":0.13345,"v":0},{"t":0.13358,"v":134},{"t":0.134,"v":0},{"t":0.13437,"v":134},{"t":0.13511,"v":0},{"t":0.13518,"v":134},{"t":0.13555,"v":268},{"t":0.13574,"v":134},{"t":0.13641,"v":268},{"t":0.13673,"v":134},{"t":0.13729,"v":268},{"t":0.13771,"v":134},{"t":0.13826,"v":268},{"t":0.13858,"v":134},{"t":0.13886,"v":0},{"t":0.13891,"v":134},{"t":0.13926,"v":268},{"t":0.13944,"v":134},{"t":0.13981,"v":0},{"t":0.13988,"v":134},{"t":0.14062,"v":0},{"t":0.14099,"v":134},{"t":0.14141,"v":0},{"t":0.14155,"v":-134},{"t":0.14162,"v":0},{"t":0.14171,"v":134},{"t":0.14178,"v":0},{"t":0.14192,"v":-134},{"t":0.14233,"v":0},{"t":0.14271,"v":-134},{"t":0.14345,"v":0},{"t":0.14352,"v":-134},{"t":0.14389,"v":-268},{"t":0.14407,"v":-134},{"t":0.14474,"v":-268},{"t":0.14507,"v":-134},{"t":0.14562,"v":-268},{"t":0.14604,"v":-134},{"t":0.14659,"v":-268},{"t":0.14692,"v":-134},{"t":0.1472,"v":0},{"t":0.14724,"v":-134},{"t":0.14759,"v":-268},{"t":0.14777,"v":-134},{"t":0.14814,"v":0},{"t":0.14821,"v":-134},{"t":0.14896,"v":0},{"t":0.14933,"v":-134},{"t":0.14974,"v":0},{"t":0.14988,"v":134},{"t":0.14995,"v":0},
{"t":0.15005,"v":-134},{"t":0.15012,"v":0},{"t":0.15025,"v":134},{"t":0.15067,"v":0},{"t":0.15104,"v":134},{"t":0.15178,"v":0},{"t":0.15185,"v":134},{"t":0.15222,"v":268},{"t":0.15241,"v":134},{"t":0.15308,"v":268},{"t":0.1534,"v":134},{"t":0.15396,"v":268},{"t":0.15438,"v":134},{"t":0.15493,"v":268},{"t":0.15525,"v":134},{"t":0.15553,"v":0},{"t":0.15558,"v":134},{"t":0.15593,"v":268},{"t":0.15611,"v":134},{"t":0.15648,"v":0},{"t":0.15655,"v":134},{"t":0.15729,"v":0},{"t":0.15766,"v":134},{"t":0.15808,"v":0},{"t":0.15822,"v":-134},{"t":0.15829,"v":0},{"t":0.15838,"v":134},{"t":0.15845,"v":0},{"t":0.15859,"v":-134},{"t":0.159,"v":0},{"t":0.15938,"v":-134},{"t":0.16012,"v":0},{"t":0.16019,"v":-134},{"t":0.16056,"v":-268},{"t":0.16074,"v":-134},{"t":0.16141,"v":-268},{"t":0.16174,"v":-134},{"t":0.16229,"v":-268},{"t":0.16271,"v":-134},{"t":0.16326,"v":-268},{"t":0.16359,"v":-134},{"t":0.16387,"v":0},{"t":0.16391,"v":-134},{"t":0.16426,"v":-268},{"t":0.16444,"v":-134},{"t":0.16481,"v":0},{"t":0.16488,"v":-134},{"t":0.16563,"v":0},{"t":0.166,"v":-134},{"t":0.16641,"v":0},{"t":0.16655,"v":134},{"t":0.16662,"v":0},
{"t":0.16672,"v":-134},{"t":0.16679,"v":0},{"t":0.16692,"v":134},{"t":0.16734,"v":0},{"t":0.16771,"v":134},{"t":0.16845,"v":0},{"t":0.16852,"v":134},{"t":0.16889,"v":268},{"t":0.16908,"v":134},{"t":0.16975,"v":268},{"t":0.17007,"v":134},{"t":0.17063,"v":268},{"t":0.17105,"v":134},{"t":0.1716,"v":268},{"t":0.17192,"v":134},{"t":0.1722,"v":0},{"t":0.17225,"v":134},{"t":0.1726,"v":268},{"t":0.17278,"v":134},{"t":0.17315,"v":0},{"t":0.17322,"v":134},{"t":0.17396,"v":0},{"t":0.17433,"v":134},{"t":0.17475,"v":0},{"t":0.17489,"v":-134},{"t":0.17496,"v":0},{"t":0.17505,"v":134},{"t":0.17512,"v":0},{"t":0.17526,"v":-134},{"t":0.17567,"v":0},{"t":0.17605,"v":-134},{"t":0.17679,"v":0},{"t":0.17686,"v":-134},{"t":0.17723,"v":-268},{"t":0.17741,"v":-134},{"t":0.17808,"v":-268},{"t":0.17841,"v":-134},{"t":0.17896,"v":-268},{"t":0.17938,"v":-134},{"t":0.17993,"v":-268},{"t":0.18026,"v":-134},{"t":0.18054,"v":0},{"t":0.18058,"v":-134},{"t":0.18093,"v":-268},{"t":0.18111,"v":-134},{"t":0.18148,"v":0},{"t":0.18155,"v":-134},{"t":0.1823,"v":0},{"t":0.18267,"v":-134},{"t":0.18308,"v":0},{"t":0.18322,"v":134},{"t":0.18329,"v":0},
{"t":0.18338,"v":-134},{"t":0.18345,"v":0},{"t":0.18358,"v":134},{"t":0.184,"v":0},{"t":0.18437,"v":134},{"t":0.18511,"v":0},{"t":0.18518,"v":134},{"t":0.18555,"v":268},{"t":0.18574,"v":134},{"t":0.18641,"v":268},{"t":0.18673,"v":134},{"t":0.18729,"v":268},{"t":0.18771,"v":134},{"t":0.18826,"v":268},{"t":0.18858,"v":134},{"t":0.18886,"v":0},{"t":0.18891,"v":134},{"t":0.18926,"v":268},{"t":0.18944,"v":134},{"t":0.18981,"v":0},{"t":0.18988,"v":134},{"t":0.19062,"v":0},{"t":0.19099,"v":134},{"t":0.19141,"v":0},{"t":0.19155,"v":-134},{"t":0.19162,"v":0},{"t":0.19171,"v":134},{"t":0.19178,"v":0},{"t":0.19192,"v":-134},{"t":0.19233,"v":0},{"t":0.19271,"v":-134},{"t":0.19345,"v":0},{"t":0.19352,"v":-134},{"t":0.19389,"v":-268},{"t":0.19407,"v":-134},{"t":0.19474,"v":-268},{"t":0.19507,"v":-134},{"t":0.19562,"v":-268},{"t":0.19604,"v":-134},{"t":0.19659,"v":-268},{"t":0.19692,"v":-134},{"t":0.1972,"v":0},{"t":0.19724,"v":-134},{"t":0.19759,"v":-268},{"t":0.19777,"v":-134},{"t":0.19814,"v":0},{"t":0.19821,"v":-134},{"t":0.19896,"v":0},{"t":0.19933,"v":-134},{"t":0.19974,"v":0},{"t":0.19988,"v":134},{"t":0.19995,"v":0},
{"t":0.2,"v":0}
]
},
"vconcat":[
{
"width":1875,"height":204,
"data":{"name":"cur"},
"transform":[{"fold":["a","b","c"],"as":["ph","val"]}],
"layer":[
{"mark":{"type":"line","strokeWidth":1.2,"clip":true},
"encoding":{
"x":{"field":"t","type":"quantitative","scale":{"domain":[0,0.2],"nice":false,"zero":false},"axis":{"orient":"bottom","values":[0,0.02,0.04,0.06,0.08,0.1,0.12,0.14,0.16,0.18,0.2],"format":".2~f","grid":true,"labelPadding":23}},
"y":{"field":"val","type":"quantitative","scale":{"domain":[-25,25.4],"nice":false,"zero":false},"axis":{"orient":"left","values":[-20,-10,0,10,20],"grid":true,"labelPadding":21,"labelExpr":"datum.value < 0 ? '-' + abs(datum.value) : '' + datum.value"}},
"color":{"field":"ph","type":"nominal","scale":{"domain":["a","b","c"],"range":["#0072BD","#D95319","#EDB120"]},"legend":null}
}},
{"transform":[{"filter":"datum.t == 0"}],
"mark":{"type":"point","opacity":0},
"encoding":{
"x":{"field":"t","type":"quantitative","scale":{"domain":[0,0.2],"nice":false,"zero":false},"axis":{"orient":"top","values":[0,0.02,0.04,0.06,0.08,0.1,0.12,0.14,0.16,0.18,0.2],"labels":false,"grid":false}},
"y":{"field":"val","type":"quantitative","scale":{"domain":[-25,25.4],"nice":false,"zero":false},"axis":{"orient":"right","values":[-20,-10,0,10,20],"labels":false,"grid":false}}
}}
],
"resolve":{"axis":{"x":"independent","y":"independent"}}
},
{
"width":1875,"height":205,
"data":{"name":"v2"},
"layer":[
{"mark":{"type":"line","interpolate":"step-after","strokeWidth":1.1,"color":"#2a7ab8","clip":true},
"encoding":{
"x":{"field":"t","type":"quantitative","scale":{"domain":[0,0.2],"nice":false,"zero":false},"axis":{"orient":"bottom","values":[0,0.02,0.04,0.06,0.08,0.1,0.12,0.14,0.16,0.18,0.2],"format":".2~f","grid":true,"labelPadding":23}},
"y":{"field":"v","type":"quantitative","scale":{"domain":[-332,336],"nice":false,"zero":false},"axis":{"orient":"left","values":[-300,-200,-100,0,100,200,300],"grid":true,"labelPadding":21,"labelExpr":"datum.value < 0 ? '-' + abs(datum.value) : '' + datum.value"}}
}},
{"transform":[{"filter":"datum.t == 0"}],
"mark":{"type":"point","opacity":0},
"encoding":{
"x":{"field":"t","type":"quantitative","scale":{"domain":[0,0.2],"nice":false,"zero":false},"axis":{"orient":"top","values":[0,0.02,0.04,0.06,0.08,0.1,0.12,0.14,0.16,0.18,0.2],"labels":false,"grid":false}},
"y":{"field":"v","type":"quantitative","scale":{"domain":[-332,336],"nice":false,"zero":false},"axis":{"orient":"right","values":[-300,-200,-100,0,100,200,300],"labels":false,"grid":false}}
}}
],
"resolve":{"axis":{"x":"independent","y":"independent"}}
},
{
"width":1875,"height":205,
"data":{"name":"cur"},
"transform":[{"fold":["d","e","f"],"as":["ph","val"]}],
"layer":[
{"mark":{"type":"line","strokeWidth":1.2,"clip":true},
"encoding":{
"x":{"field":"t","type":"quantitative","scale":{"domain":[0,0.2],"nice":false,"zero":false},"axis":{"orient":"bottom","values":[0,0.02,0.04,0.06,0.08,0.1,0.12,0.14,0.16,0.18,0.2],"format":".2~f","grid":true,"labelPadding":23}},
"y":{"field":"val","type":"quantitative","scale":{"domain":[-26.5,26.5],"nice":false,"zero":false},"axis":{"orient":"left","values":[-20,-10,0,10,20],"grid":true,"labelPadding":21,"labelExpr":"datum.value < 0 ? '-' + abs(datum.value) : '' + datum.value"}},
"color":{"field":"ph","type":"nominal","scale":{"domain":["d","e","f"],"range":["#0072BD","#D95319","#EDB120"]},"legend":null}
}},
{"transform":[{"filter":"datum.t == 0"}],
"mark":{"type":"point","opacity":0},
"encoding":{
"x":{"field":"t","type":"quantitative","scale":{"domain":[0,0.2],"nice":false,"zero":false},"axis":{"orient":"top","values":[0,0.02,0.04,0.06,0.08,0.1,0.12,0.14,0.16,0.18,0.2],"labels":false,"grid":false}},
"y":{"field":"val","type":"quantitative","scale":{"domain":[-26.5,26.5],"nice":false,"zero":false},"axis":{"orient":"right","values":[-20,-10,0,10,20],"labels":false,"grid":false}}
}}
],
"resolve":{"axis":{"x":"independent","y":"independent"}}
},
{
"width":1875,"height":189,
"data":{"name":"v4"},
"layer":[
{"mark":{"type":"line","interpolate":"step-after","strokeWidth":1.1,"color":"#2a7ab8","clip":true},
"encoding":{
"x":{"field":"t","type":"quantitative","scale":{"domain":[0,0.2],"nice":false,"zero":false},"axis":{"orient":"bottom","values":[0,0.02,0.04,0.06,0.08,0.1,0.12,0.14,0.16,0.18,0.2],"format":".2~f","grid":true,"labelPadding":23}},
"y":{"field":"v","type":"quantitative","scale":{"domain":[-332,336],"nice":false,"zero":false},"axis":{"orient":"left","values":[-300,-200,-100,0,100,200,300],"grid":true,"labelPadding":21,"labelExpr":"datum.value < 0 ? '-' + abs(datum.value) : '' + datum.value"}}
}},
{"transform":[{"filter":"datum.t == 0"}],
"mark":{"type":"point","opacity":0},
"encoding":{
"x":{"field":"t","type":"quantitative","scale":{"domain":[0,0.2],"nice":false,"zero":false},"axis":{"orient":"top","values":[0,0.02,0.04,0.06,0.08,0.1,0.12,0.14,0.16,0.18,0.2],"labels":false,"grid":false}},
"y":{"field":"v","type":"quantitative","scale":{"domain":[-332,336],"nice":false,"zero":false},"axis":{"orient":"right","values":[-300,-200,-100,0,100,200,300],"labels":false,"grid":false}}
}}
],
"resolve":{"axis":{"x":"independent","y":"independent"}}
}
]
}
